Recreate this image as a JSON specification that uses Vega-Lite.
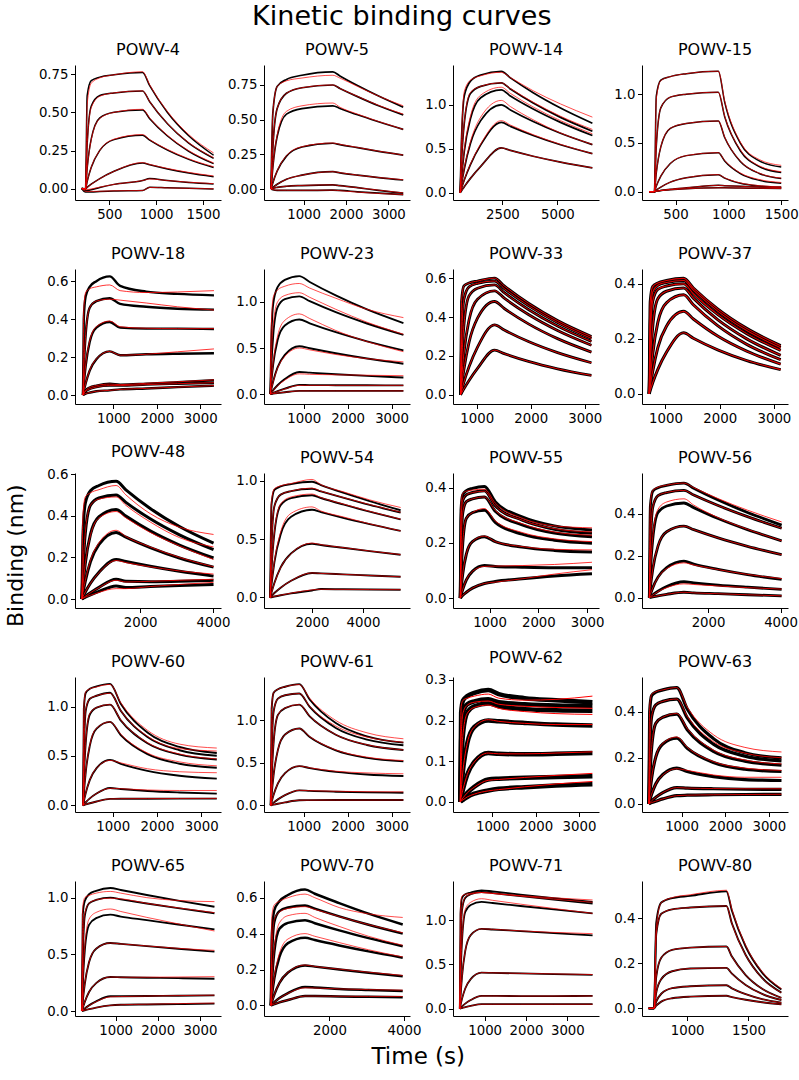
{
"$schema":"https://vega.github.io/schema/vega-lite/v6.json",
"background":"white",
"padding":{"left":5,"top":3,"right":0,"bottom":3},
"config":{
"font":"DejaVu Sans",
"view":{"stroke":null},
"axis":{"grid":false,"domainColor":"#000","tickColor":"#000","labelColor":"#000","labelFontSize":13.3,"labelFont":"DejaVu Sans","tickSize":4.5,"labelPadding":2.5,"labelFlush":false,"labelOverlap":false,"domainWidth":1,"tickWidth":1},
"title":{"font":"DejaVu Sans","fontSize":16,"fontWeight":"normal","color":"#000","offset":7,"anchor":"middle"}
},
"title":{"text":"Kinetic binding curves","fontSize":27,"offset":11,"anchor":"middle"},
"datasets":{
"p1":[
{"c":1,"t":205,"y":0.003,"f":0.003},{"c":1,"t":245,"y":0,"f":0},{"c":1,"t":263,"y":0.61,"f":0.55},{"c":1,"t":306,"y":0.707,"f":0.69},{"c":1,"t":398,"y":0.73,"f":0.725},{"c":1,"t":550,"y":0.745,"f":0.745},{"c":1,"t":855,"y":0.76,"f":0.765},{"c":1,"t":931,"y":0.674,"f":0.68},{"c":1,"t":1121,"y":0.499,"f":0.505},{"c":1,"t":1348,"y":0.347,"f":0.355},{"c":1,"t":1614,"y":0.22,"f":0.235},
{"c":2,"t":205,"y":0.003,"f":0.003},{"c":2,"t":245,"y":0,"f":0},{"c":2,"t":263,"y":0.29,"f":0.28},{"c":2,"t":306,"y":0.54,"f":0.53},{"c":2,"t":398,"y":0.61,"f":0.605},{"c":2,"t":550,"y":0.627,"f":0.627},{"c":2,"t":855,"y":0.64,"f":0.64},{"c":2,"t":931,"y":0.569,"f":0.57},{"c":2,"t":1121,"y":0.425,"f":0.428},{"c":2,"t":1348,"y":0.299,"f":0.302},{"c":2,"t":1614,"y":0.2,"f":0.205},
{"c":3,"t":205,"y":0.003,"f":0.003},{"c":3,"t":245,"y":0,"f":0},{"c":3,"t":263,"y":0.134,"f":0.13},{"c":3,"t":306,"y":0.325,"f":0.32},{"c":3,"t":398,"y":0.464,"f":0.46},{"c":3,"t":550,"y":0.5,"f":0.5},{"c":3,"t":855,"y":0.515,"f":0.52},{"c":3,"t":931,"y":0.459,"f":0.463},{"c":3,"t":1121,"y":0.346,"f":0.35},{"c":3,"t":1348,"y":0.246,"f":0.25},{"c":3,"t":1614,"y":0.165,"f":0.17},
{"c":4,"t":205,"y":0.003,"f":0.003},{"c":4,"t":245,"y":0,"f":0},{"c":4,"t":263,"y":0.049,"f":0.049},{"c":4,"t":306,"y":0.14,"f":0.14},{"c":4,"t":398,"y":0.252,"f":0.252},{"c":4,"t":550,"y":0.322,"f":0.325},{"c":4,"t":855,"y":0.35,"f":0.355},{"c":4,"t":931,"y":0.319,"f":0.322},{"c":4,"t":1121,"y":0.254,"f":0.258},{"c":4,"t":1348,"y":0.193,"f":0.197},{"c":4,"t":1614,"y":0.14,"f":0.145},
{"c":5,"t":205,"y":0.003,"f":0.003},{"c":5,"t":245,"y":0,"f":0},{"c":5,"t":263,"y":0.01,"f":0.01},{"c":5,"t":306,"y":0.031,"f":0.03},{"c":5,"t":398,"y":0.068,"f":0.067},{"c":5,"t":550,"y":0.116,"f":0.115},{"c":5,"t":855,"y":0.17,"f":0.172},{"c":5,"t":931,"y":0.158,"f":0.16},{"c":5,"t":1121,"y":0.131,"f":0.134},{"c":5,"t":1348,"y":0.104,"f":0.108},{"c":5,"t":1614,"y":0.08,"f":0.085},
{"c":6,"t":205,"y":0.003,"f":0.003},{"c":6,"t":245,"y":-0.01,"f":-0.005},{"c":6,"t":263,"y":-0.01,"f":-0.004},{"c":6,"t":306,"y":-0.005,"f":0},{"c":6,"t":398,"y":0.01,"f":0.012},{"c":6,"t":550,"y":0.03,"f":0.03},{"c":6,"t":855,"y":0.055,"f":0.055},{"c":6,"t":931,"y":0.068,"f":0.065},{"c":6,"t":1121,"y":0.055,"f":0.055},{"c":6,"t":1348,"y":0.043,"f":0.044},{"c":6,"t":1614,"y":0.033,"f":0.035},
{"c":7,"t":205,"y":0.003,"f":0.003},{"c":7,"t":245,"y":-0.02,"f":-0.015},{"c":7,"t":263,"y":-0.02,"f":-0.016},{"c":7,"t":306,"y":-0.02,"f":-0.016},{"c":7,"t":398,"y":-0.017,"f":-0.015},{"c":7,"t":550,"y":-0.013,"f":-0.012},{"c":7,"t":855,"y":-0.01,"f":-0.01},{"c":7,"t":931,"y":0.012,"f":0.01},{"c":7,"t":1121,"y":0.008,"f":0.007},{"c":7,"t":1348,"y":0.004,"f":0.004},{"c":7,"t":1614,"y":0,"f":0.001}
],
"p2":[
{"c":1,"t":230,"y":0,"f":0},{"c":1,"t":274,"y":0.55,"f":0.55},{"c":1,"t":376,"y":0.74,"f":0.74},{"c":1,"t":595,"y":0.79,"f":0.78},{"c":1,"t":960,"y":0.82,"f":0.8},{"c":1,"t":1690,"y":0.845,"f":0.82},{"c":1,"t":1856,"y":0.815,"f":0.8},{"c":1,"t":2271,"y":0.746,"f":0.74},{"c":1,"t":2769,"y":0.67,"f":0.67},{"c":1,"t":3350,"y":0.59,"f":0.6},
{"c":2,"t":230,"y":0,"f":0},{"c":2,"t":274,"y":0.3,"f":0.3},{"c":2,"t":376,"y":0.58,"f":0.58},{"c":2,"t":595,"y":0.69,"f":0.69},{"c":2,"t":960,"y":0.73,"f":0.73},{"c":2,"t":1690,"y":0.75,"f":0.75},{"c":2,"t":1856,"y":0.725,"f":0.725},{"c":2,"t":2271,"y":0.666,"f":0.668},{"c":2,"t":2769,"y":0.6,"f":0.603},{"c":2,"t":3350,"y":0.534,"f":0.54},
{"c":3,"t":230,"y":0,"f":0},{"c":3,"t":274,"y":0.16,"f":0.16},{"c":3,"t":376,"y":0.38,"f":0.39},{"c":3,"t":595,"y":0.54,"f":0.56},{"c":3,"t":960,"y":0.58,"f":0.6},{"c":3,"t":1690,"y":0.6,"f":0.62},{"c":3,"t":1856,"y":0.581,"f":0.59},{"c":3,"t":2271,"y":0.535,"f":0.54},{"c":3,"t":2769,"y":0.485,"f":0.487},{"c":3,"t":3350,"y":0.43,"f":0.43},
{"c":4,"t":230,"y":0,"f":0},{"c":4,"t":274,"y":0.046,"f":0.046},{"c":4,"t":376,"y":0.13,"f":0.13},{"c":4,"t":595,"y":0.237,"f":0.24},{"c":4,"t":960,"y":0.303,"f":0.305},{"c":4,"t":1690,"y":0.33,"f":0.332},{"c":4,"t":1856,"y":0.32,"f":0.322},{"c":4,"t":2271,"y":0.298,"f":0.3},{"c":4,"t":2769,"y":0.272,"f":0.273},{"c":4,"t":3350,"y":0.245,"f":0.245},
{"c":5,"t":230,"y":0,"f":0},{"c":5,"t":274,"y":0.011,"f":0.011},{"c":5,"t":376,"y":0.034,"f":0.034},{"c":5,"t":595,"y":0.07,"f":0.07},{"c":5,"t":960,"y":0.1,"f":0.1},{"c":5,"t":1690,"y":0.125,"f":0.125},{"c":5,"t":1856,"y":0.117,"f":0.118},{"c":5,"t":2271,"y":0.1,"f":0.1},{"c":5,"t":2769,"y":0.082,"f":0.083},{"c":5,"t":3350,"y":0.065,"f":0.067},
{"c":6,"t":230,"y":0,"f":0},{"c":6,"t":274,"y":0.005,"f":0.005},{"c":6,"t":376,"y":0.012,"f":0.012},{"c":6,"t":595,"y":0.02,"f":0.02},{"c":6,"t":960,"y":0.025,"f":0.026},{"c":6,"t":1690,"y":0.03,"f":0.03},{"c":6,"t":1856,"y":0.025,"f":0.024},{"c":6,"t":2271,"y":0.01,"f":0.01},{"c":6,"t":2769,"y":-0.01,"f":-0.008},{"c":6,"t":3350,"y":-0.03,"f":-0.028},
{"c":7,"t":230,"y":0,"f":0},{"c":7,"t":274,"y":-0.005,"f":-0.004},{"c":7,"t":376,"y":-0.01,"f":-0.008},{"c":7,"t":595,"y":-0.01,"f":-0.009},{"c":7,"t":960,"y":-0.01,"f":-0.009},{"c":7,"t":1690,"y":-0.008,"f":-0.008},{"c":7,"t":1856,"y":-0.01,"f":-0.012},{"c":7,"t":2271,"y":-0.02,"f":-0.022},{"c":7,"t":2769,"y":-0.03,"f":-0.032},{"c":7,"t":3350,"y":-0.04,"f":-0.04}
],
"p3":[
{"c":1,"t":580,"y":0,"f":0},{"c":1,"t":636,"y":0.55,"f":0.55},{"c":1,"t":767,"y":1.1,"f":1.15},{"c":1,"t":1048,"y":1.27,"f":1.28},{"c":1,"t":1515,"y":1.34,"f":1.33},{"c":1,"t":2450,"y":1.38,"f":1.37},{"c":1,"t":2864,"y":1.306,"f":1.31},{"c":1,"t":3899,"y":1.137,"f":1.16},{"c":1,"t":5141,"y":0.963,"f":1.01},{"c":1,"t":6590,"y":0.79,"f":0.86},
{"c":2,"t":580,"y":0,"f":0},{"c":2,"t":636,"y":0.33,"f":0.34},{"c":2,"t":767,"y":0.79,"f":0.8},{"c":2,"t":1048,"y":1.13,"f":1.14},{"c":2,"t":1515,"y":1.21,"f":1.21},{"c":2,"t":2450,"y":1.25,"f":1.25},{"c":2,"t":2864,"y":1.18,"f":1.185},{"c":2,"t":3899,"y":1.02,"f":1.03},{"c":2,"t":5141,"y":0.857,"f":0.87},{"c":2,"t":6590,"y":0.7,"f":0.72},
{"c":3,"t":580,"y":0,"f":0},{"c":3,"t":636,"y":0.16,"f":0.17},{"c":3,"t":767,"y":0.47,"f":0.49},{"c":3,"t":1048,"y":0.84,"f":0.87},{"c":3,"t":1515,"y":1.08,"f":1.11},{"c":3,"t":2450,"y":1.17,"f":1.2},{"c":3,"t":2864,"y":1.1,"f":1.13},{"c":3,"t":3899,"y":0.952,"f":0.975},{"c":3,"t":5141,"y":0.8,"f":0.82},{"c":3,"t":6590,"y":0.65,"f":0.67},
{"c":4,"t":580,"y":0,"f":0},{"c":4,"t":636,"y":0.09,"f":0.09},{"c":4,"t":767,"y":0.27,"f":0.28},{"c":4,"t":1048,"y":0.56,"f":0.58},{"c":4,"t":1515,"y":0.82,"f":0.86},{"c":4,"t":2450,"y":1.0,"f":1.05},{"c":4,"t":2864,"y":0.942,"f":0.98},{"c":4,"t":3899,"y":0.81,"f":0.83},{"c":4,"t":5141,"y":0.676,"f":0.68},{"c":4,"t":6590,"y":0.547,"f":0.55},
{"c":5,"t":580,"y":0,"f":0},{"c":5,"t":636,"y":0.046,"f":0.046},{"c":5,"t":767,"y":0.144,"f":0.146},{"c":5,"t":1048,"y":0.32,"f":0.325},{"c":5,"t":1515,"y":0.544,"f":0.555},{"c":5,"t":2450,"y":0.8,"f":0.82},{"c":5,"t":2864,"y":0.755,"f":0.77},{"c":5,"t":3899,"y":0.651,"f":0.66},{"c":5,"t":5141,"y":0.546,"f":0.55},{"c":5,"t":6590,"y":0.445,"f":0.445},
{"c":6,"t":580,"y":0,"f":0},{"c":6,"t":636,"y":0.02,"f":0.02},{"c":6,"t":767,"y":0.069,"f":0.069},{"c":6,"t":1048,"y":0.163,"f":0.163},{"c":6,"t":1515,"y":0.3,"f":0.3},{"c":6,"t":2450,"y":0.51,"f":0.51},{"c":6,"t":2864,"y":0.481,"f":0.481},{"c":6,"t":3899,"y":0.415,"f":0.415},{"c":6,"t":5141,"y":0.348,"f":0.348},{"c":6,"t":6590,"y":0.283,"f":0.283}
],
"p4":[
{"c":1,"t":250,"y":0,"f":0},{"c":1,"t":300,"y":0,"f":0},{"c":1,"t":318,"y":0.98,"f":0.95},{"c":1,"t":361,"y":1.145,"f":1.14},{"c":1,"t":451,"y":1.18,"f":1.18},{"c":1,"t":602,"y":1.21,"f":1.21},{"c":1,"t":905,"y":1.235,"f":1.235},{"c":1,"t":965,"y":0.919,"f":0.93},{"c":1,"t":1113,"y":0.498,"f":0.51},{"c":1,"t":1292,"y":0.316,"f":0.33},{"c":1,"t":1500,"y":0.253,"f":0.27},
{"c":2,"t":250,"y":0,"f":0},{"c":2,"t":300,"y":0,"f":0},{"c":2,"t":318,"y":0.46,"f":0.46},{"c":2,"t":361,"y":0.86,"f":0.86},{"c":2,"t":451,"y":0.97,"f":0.97},{"c":2,"t":602,"y":1.0,"f":1.0},{"c":2,"t":905,"y":1.02,"f":1.02},{"c":2,"t":965,"y":0.769,"f":0.775},{"c":2,"t":1113,"y":0.42,"f":0.43},{"c":2,"t":1292,"y":0.258,"f":0.265},{"c":2,"t":1500,"y":0.196,"f":0.205},
{"c":3,"t":250,"y":0,"f":0},{"c":3,"t":300,"y":0,"f":0},{"c":3,"t":318,"y":0.19,"f":0.19},{"c":3,"t":361,"y":0.46,"f":0.46},{"c":3,"t":451,"y":0.65,"f":0.65},{"c":3,"t":602,"y":0.7,"f":0.7},{"c":3,"t":905,"y":0.725,"f":0.725},{"c":3,"t":965,"y":0.556,"f":0.56},{"c":3,"t":1113,"y":0.31,"f":0.315},{"c":3,"t":1292,"y":0.187,"f":0.19},{"c":3,"t":1500,"y":0.135,"f":0.14},
{"c":4,"t":250,"y":0,"f":0},{"c":4,"t":300,"y":0,"f":0},{"c":4,"t":318,"y":0.056,"f":0.056},{"c":4,"t":361,"y":0.16,"f":0.16},{"c":4,"t":451,"y":0.29,"f":0.29},{"c":4,"t":602,"y":0.37,"f":0.37},{"c":4,"t":905,"y":0.4,"f":0.4},{"c":4,"t":965,"y":0.315,"f":0.32},{"c":4,"t":1113,"y":0.186,"f":0.192},{"c":4,"t":1292,"y":0.117,"f":0.125},{"c":4,"t":1500,"y":0.087,"f":0.095},
{"c":5,"t":250,"y":0,"f":0},{"c":5,"t":300,"y":0,"f":0},{"c":5,"t":318,"y":0.016,"f":0.016},{"c":5,"t":361,"y":0.047,"f":0.047},{"c":5,"t":451,"y":0.098,"f":0.098},{"c":5,"t":602,"y":0.143,"f":0.143},{"c":5,"t":905,"y":0.175,"f":0.175},{"c":5,"t":965,"y":0.14,"f":0.142},{"c":5,"t":1113,"y":0.087,"f":0.09},{"c":5,"t":1292,"y":0.059,"f":0.062},{"c":5,"t":1500,"y":0.047,"f":0.05},
{"c":6,"t":250,"y":0,"f":0},{"c":6,"t":300,"y":0,"f":0},{"c":6,"t":318,"y":0.005,"f":0.005},{"c":6,"t":361,"y":0.012,"f":0.012},{"c":6,"t":451,"y":0.025,"f":0.025},{"c":6,"t":602,"y":0.04,"f":0.04},{"c":6,"t":905,"y":0.065,"f":0.065},{"c":6,"t":965,"y":0.062,"f":0.062},{"c":6,"t":1113,"y":0.055,"f":0.055},{"c":6,"t":1292,"y":0.048,"f":0.048},{"c":6,"t":1500,"y":0.04,"f":0.04},
{"c":7,"t":250,"y":0,"f":0},{"c":7,"t":300,"y":0,"f":0},{"c":7,"t":318,"y":0.005,"f":0.005},{"c":7,"t":361,"y":0.012,"f":0.012},{"c":7,"t":451,"y":0.02,"f":0.02},{"c":7,"t":602,"y":0.03,"f":0.03},{"c":7,"t":905,"y":0.04,"f":0.04},{"c":7,"t":965,"y":0.04,"f":0.04},{"c":7,"t":1113,"y":0.038,"f":0.038},{"c":7,"t":1292,"y":0.035,"f":0.035},{"c":7,"t":1500,"y":0.033,"f":0.033}
],
"p5":[
{"c":1,"t":300,"y":0,"f":0},{"c":1,"t":318,"y":0.4,"f":0.45},{"c":1,"t":362,"y":0.52,"f":0.54},{"c":1,"t":454,"y":0.57,"f":0.56},{"c":1,"t":608,"y":0.6,"f":0.57},{"c":1,"t":915,"y":0.625,"f":0.58},{"c":1,"t":1155,"y":0.575,"f":0.55},{"c":1,"t":1755,"y":0.545,"f":0.54},{"c":1,"t":2475,"y":0.533,"f":0.543},{"c":1,"t":3315,"y":0.525,"f":0.55},
{"c":2,"t":300,"y":0,"f":0},{"c":2,"t":318,"y":0.13,"f":0.13},{"c":2,"t":362,"y":0.32,"f":0.32},{"c":2,"t":454,"y":0.46,"f":0.46},{"c":2,"t":608,"y":0.495,"f":0.495},{"c":2,"t":915,"y":0.51,"f":0.505},{"c":2,"t":1155,"y":0.48,"f":0.5},{"c":2,"t":1755,"y":0.465,"f":0.485},{"c":2,"t":2475,"y":0.455,"f":0.465},{"c":2,"t":3315,"y":0.45,"f":0.448},
{"c":3,"t":300,"y":0,"f":0},{"c":3,"t":318,"y":0.054,"f":0.055},{"c":3,"t":362,"y":0.155,"f":0.158},{"c":3,"t":454,"y":0.28,"f":0.285},{"c":3,"t":608,"y":0.355,"f":0.36},{"c":3,"t":915,"y":0.385,"f":0.39},{"c":3,"t":1155,"y":0.355,"f":0.36},{"c":3,"t":1755,"y":0.35,"f":0.352},{"c":3,"t":2475,"y":0.35,"f":0.35},{"c":3,"t":3315,"y":0.348,"f":0.35},
{"c":4,"t":300,"y":0,"f":0},{"c":4,"t":318,"y":0.021,"f":0.021},{"c":4,"t":362,"y":0.062,"f":0.062},{"c":4,"t":454,"y":0.129,"f":0.13},{"c":4,"t":608,"y":0.189,"f":0.19},{"c":4,"t":915,"y":0.23,"f":0.23},{"c":4,"t":1155,"y":0.21,"f":0.21},{"c":4,"t":1755,"y":0.215,"f":0.215},{"c":4,"t":2475,"y":0.218,"f":0.228},{"c":4,"t":3315,"y":0.22,"f":0.243},
{"c":5,"t":300,"y":0,"f":0},{"c":5,"t":318,"y":0.01,"f":0.01},{"c":5,"t":362,"y":0.025,"f":0.025},{"c":5,"t":454,"y":0.04,"f":0.04},{"c":5,"t":608,"y":0.05,"f":0.05},{"c":5,"t":915,"y":0.06,"f":0.058},{"c":5,"t":1155,"y":0.055,"f":0.055},{"c":5,"t":1755,"y":0.06,"f":0.062},{"c":5,"t":2475,"y":0.068,"f":0.07},{"c":5,"t":3315,"y":0.078,"f":0.08},
{"c":6,"t":300,"y":0,"f":0},{"c":6,"t":318,"y":0.008,"f":0.008},{"c":6,"t":362,"y":0.02,"f":0.02},{"c":6,"t":454,"y":0.032,"f":0.032},{"c":6,"t":608,"y":0.042,"f":0.042},{"c":6,"t":915,"y":0.05,"f":0.05},{"c":6,"t":1155,"y":0.05,"f":0.05},{"c":6,"t":1755,"y":0.055,"f":0.055},{"c":6,"t":2475,"y":0.06,"f":0.06},{"c":6,"t":3315,"y":0.065,"f":0.065},
{"c":7,"t":300,"y":0,"f":0},{"c":7,"t":318,"y":0.003,"f":0.003},{"c":7,"t":362,"y":0.008,"f":0.008},{"c":7,"t":454,"y":0.013,"f":0.013},{"c":7,"t":608,"y":0.02,"f":0.02},{"c":7,"t":915,"y":0.025,"f":0.025},{"c":7,"t":1155,"y":0.03,"f":0.03},{"c":7,"t":1755,"y":0.035,"f":0.035},{"c":7,"t":2475,"y":0.042,"f":0.042},{"c":7,"t":3315,"y":0.05,"f":0.05}
],
"p6":[
{"c":1,"t":240,"y":0,"f":0},{"c":1,"t":260,"y":0.55,"f":0.7},{"c":1,"t":306,"y":0.98,"f":1.05},{"c":1,"t":405,"y":1.16,"f":1.13},{"c":1,"t":570,"y":1.24,"f":1.17},{"c":1,"t":900,"y":1.28,"f":1.2},{"c":1,"t":1137,"y":1.216,"f":1.15},{"c":1,"t":1730,"y":1.07,"f":1.04},{"c":1,"t":2441,"y":0.918,"f":0.92},{"c":1,"t":3270,"y":0.77,"f":0.83},
{"c":2,"t":240,"y":0,"f":0},{"c":2,"t":260,"y":0.27,"f":0.35},{"c":2,"t":306,"y":0.64,"f":0.75},{"c":2,"t":405,"y":0.94,"f":1.0},{"c":2,"t":570,"y":1.03,"f":1.07},{"c":2,"t":900,"y":1.06,"f":1.1},{"c":2,"t":1137,"y":1.008,"f":1.05},{"c":2,"t":1730,"y":0.889,"f":0.92},{"c":2,"t":2441,"y":0.766,"f":0.78},{"c":2,"t":3270,"y":0.643,"f":0.65},
{"c":3,"t":240,"y":0,"f":0},{"c":3,"t":260,"y":0.113,"f":0.12},{"c":3,"t":306,"y":0.324,"f":0.35},{"c":3,"t":405,"y":0.583,"f":0.63},{"c":3,"t":570,"y":0.745,"f":0.8},{"c":3,"t":900,"y":0.81,"f":0.87},{"c":3,"t":1137,"y":0.768,"f":0.82},{"c":3,"t":1730,"y":0.672,"f":0.69},{"c":3,"t":2441,"y":0.573,"f":0.57},{"c":3,"t":3270,"y":0.475,"f":0.46},
{"c":4,"t":240,"y":0,"f":0},{"c":4,"t":260,"y":0.047,"f":0.045},{"c":4,"t":306,"y":0.14,"f":0.135},{"c":4,"t":405,"y":0.29,"f":0.28},{"c":4,"t":570,"y":0.426,"f":0.41},{"c":4,"t":900,"y":0.52,"f":0.5},{"c":4,"t":1137,"y":0.497,"f":0.48},{"c":4,"t":1730,"y":0.443,"f":0.43},{"c":4,"t":2441,"y":0.386,"f":0.385},{"c":4,"t":3270,"y":0.33,"f":0.35},
{"c":5,"t":240,"y":0,"f":0},{"c":5,"t":260,"y":0.014,"f":0.013},{"c":5,"t":306,"y":0.043,"f":0.04},{"c":5,"t":405,"y":0.096,"f":0.09},{"c":5,"t":570,"y":0.163,"f":0.152},{"c":5,"t":900,"y":0.24,"f":0.22},{"c":5,"t":1137,"y":0.233,"f":0.215},{"c":5,"t":1730,"y":0.216,"f":0.21},{"c":5,"t":2441,"y":0.198,"f":0.205},{"c":5,"t":3270,"y":0.18,"f":0.2},
{"c":6,"t":240,"y":0,"f":0},{"c":6,"t":260,"y":0.004,"f":0.004},{"c":6,"t":306,"y":0.0135,"f":0.013},{"c":6,"t":405,"y":0.032,"f":0.03},{"c":6,"t":570,"y":0.059,"f":0.056},{"c":6,"t":900,"y":0.1,"f":0.095},{"c":6,"t":1137,"y":0.098,"f":0.095},{"c":6,"t":1730,"y":0.097,"f":0.095},{"c":6,"t":2441,"y":0.096,"f":0.095},{"c":6,"t":3270,"y":0.095,"f":0.095},
{"c":7,"t":240,"y":0,"f":0},{"c":7,"t":260,"y":0.002,"f":0.002},{"c":7,"t":306,"y":0.005,"f":0.005},{"c":7,"t":405,"y":0.011,"f":0.011},{"c":7,"t":570,"y":0.02,"f":0.02},{"c":7,"t":900,"y":0.035,"f":0.035},{"c":7,"t":1137,"y":0.035,"f":0.035},{"c":7,"t":1730,"y":0.035,"f":0.035},{"c":7,"t":2441,"y":0.035,"f":0.035},{"c":7,"t":3270,"y":0.035,"f":0.035}
],
"p7":[
{"c":1,"t":700,"y":0,"f":0},{"c":1,"t":719,"y":0.48,"f":0.48},{"c":1,"t":763,"y":0.56,"f":0.56},{"c":1,"t":858,"y":0.575,"f":0.575},{"c":1,"t":1015,"y":0.585,"f":0.585},{"c":1,"t":1330,"y":0.6,"f":0.6},{"c":1,"t":1510,"y":0.56,"f":0.56},{"c":1,"t":1958,"y":0.471,"f":0.471},{"c":1,"t":2497,"y":0.382,"f":0.382},{"c":1,"t":3125,"y":0.3,"f":0.3},
{"c":2,"t":700,"y":0,"f":0},{"c":2,"t":719,"y":0.26,"f":0.26},{"c":2,"t":763,"y":0.49,"f":0.49},{"c":2,"t":858,"y":0.555,"f":0.555},{"c":2,"t":1015,"y":0.573,"f":0.573},{"c":2,"t":1330,"y":0.585,"f":0.585},{"c":2,"t":1510,"y":0.546,"f":0.546},{"c":2,"t":1958,"y":0.459,"f":0.459},{"c":2,"t":2497,"y":0.372,"f":0.372},{"c":2,"t":3125,"y":0.29,"f":0.29},
{"c":3,"t":700,"y":0,"f":0},{"c":3,"t":719,"y":0.147,"f":0.147},{"c":3,"t":763,"y":0.356,"f":0.356},{"c":3,"t":858,"y":0.509,"f":0.509},{"c":3,"t":1015,"y":0.548,"f":0.548},{"c":3,"t":1330,"y":0.565,"f":0.565},{"c":3,"t":1510,"y":0.525,"f":0.525},{"c":3,"t":1958,"y":0.439,"f":0.439},{"c":3,"t":2497,"y":0.354,"f":0.354},{"c":3,"t":3125,"y":0.275,"f":0.275},
{"c":4,"t":700,"y":0,"f":0},{"c":4,"t":719,"y":0.075,"f":0.075},{"c":4,"t":763,"y":0.214,"f":0.214},{"c":4,"t":858,"y":0.385,"f":0.385},{"c":4,"t":1015,"y":0.492,"f":0.492},{"c":4,"t":1330,"y":0.535,"f":0.535},{"c":4,"t":1510,"y":0.497,"f":0.497},{"c":4,"t":1958,"y":0.413,"f":0.413},{"c":4,"t":2497,"y":0.331,"f":0.331},{"c":4,"t":3125,"y":0.255,"f":0.255},
{"c":5,"t":700,"y":0,"f":0},{"c":5,"t":719,"y":0.043,"f":0.043},{"c":5,"t":763,"y":0.13,"f":0.13},{"c":5,"t":858,"y":0.27,"f":0.27},{"c":5,"t":1015,"y":0.394,"f":0.394},{"c":5,"t":1330,"y":0.48,"f":0.48},{"c":5,"t":1510,"y":0.444,"f":0.444},{"c":5,"t":1958,"y":0.365,"f":0.365},{"c":5,"t":2497,"y":0.289,"f":0.289},{"c":5,"t":3125,"y":0.22,"f":0.22},
{"c":6,"t":700,"y":0,"f":0},{"c":6,"t":719,"y":0.02,"f":0.02},{"c":6,"t":763,"y":0.065,"f":0.065},{"c":6,"t":858,"y":0.144,"f":0.144},{"c":6,"t":1015,"y":0.245,"f":0.245},{"c":6,"t":1330,"y":0.36,"f":0.36},{"c":6,"t":1510,"y":0.333,"f":0.333},{"c":6,"t":1958,"y":0.274,"f":0.274},{"c":6,"t":2497,"y":0.217,"f":0.217},{"c":6,"t":3125,"y":0.165,"f":0.165},
{"c":7,"t":700,"y":0,"f":0},{"c":7,"t":719,"y":0.009,"f":0.009},{"c":7,"t":763,"y":0.031,"f":0.031},{"c":7,"t":858,"y":0.074,"f":0.074},{"c":7,"t":1015,"y":0.136,"f":0.136},{"c":7,"t":1330,"y":0.23,"f":0.23},{"c":7,"t":1510,"y":0.212,"f":0.212},{"c":7,"t":1958,"y":0.172,"f":0.172},{"c":7,"t":2497,"y":0.134,"f":0.134},{"c":7,"t":3125,"y":0.1,"f":0.1}
],
"p8":[
{"c":1,"t":700,"y":0,"f":0},{"c":1,"t":719,"y":0.336,"f":0.336},{"c":1,"t":764,"y":0.39,"f":0.39},{"c":1,"t":859,"y":0.403,"f":0.403},{"c":1,"t":1018,"y":0.412,"f":0.412},{"c":1,"t":1335,"y":0.42,"f":0.42},{"c":1,"t":1514,"y":0.385,"f":0.385},{"c":1,"t":1962,"y":0.309,"f":0.309},{"c":1,"t":2499,"y":0.238,"f":0.238},{"c":1,"t":3125,"y":0.175,"f":0.175},
{"c":2,"t":700,"y":0,"f":0},{"c":2,"t":719,"y":0.25,"f":0.25},{"c":2,"t":764,"y":0.37,"f":0.37},{"c":2,"t":859,"y":0.395,"f":0.395},{"c":2,"t":1018,"y":0.405,"f":0.405},{"c":2,"t":1335,"y":0.412,"f":0.412},{"c":2,"t":1514,"y":0.377,"f":0.377},{"c":2,"t":1962,"y":0.301,"f":0.301},{"c":2,"t":2499,"y":0.23,"f":0.23},{"c":2,"t":3125,"y":0.168,"f":0.168},
{"c":3,"t":700,"y":0,"f":0},{"c":3,"t":719,"y":0.18,"f":0.18},{"c":3,"t":764,"y":0.336,"f":0.336},{"c":3,"t":859,"y":0.38,"f":0.38},{"c":3,"t":1018,"y":0.392,"f":0.392},{"c":3,"t":1335,"y":0.4,"f":0.4},{"c":3,"t":1514,"y":0.364,"f":0.364},{"c":3,"t":1962,"y":0.289,"f":0.289},{"c":3,"t":2499,"y":0.219,"f":0.219},{"c":3,"t":3125,"y":0.158,"f":0.158},
{"c":4,"t":700,"y":0,"f":0},{"c":4,"t":719,"y":0.1,"f":0.1},{"c":4,"t":764,"y":0.243,"f":0.243},{"c":4,"t":859,"y":0.346,"f":0.346},{"c":4,"t":1018,"y":0.373,"f":0.373},{"c":4,"t":1335,"y":0.385,"f":0.385},{"c":4,"t":1514,"y":0.348,"f":0.348},{"c":4,"t":1962,"y":0.27,"f":0.27},{"c":4,"t":2499,"y":0.2,"f":0.2},{"c":4,"t":3125,"y":0.14,"f":0.14},
{"c":5,"t":700,"y":0,"f":0},{"c":5,"t":719,"y":0.05,"f":0.05},{"c":5,"t":764,"y":0.144,"f":0.144},{"c":5,"t":859,"y":0.26,"f":0.26},{"c":5,"t":1018,"y":0.331,"f":0.331},{"c":5,"t":1335,"y":0.36,"f":0.36},{"c":5,"t":1514,"y":0.324,"f":0.324},{"c":5,"t":1962,"y":0.248,"f":0.248},{"c":5,"t":2499,"y":0.18,"f":0.18},{"c":5,"t":3125,"y":0.124,"f":0.124},
{"c":6,"t":700,"y":0,"f":0},{"c":6,"t":719,"y":0.027,"f":0.027},{"c":6,"t":764,"y":0.081,"f":0.081},{"c":6,"t":859,"y":0.168,"f":0.168},{"c":6,"t":1018,"y":0.246,"f":0.246},{"c":6,"t":1335,"y":0.3,"f":0.3},{"c":6,"t":1514,"y":0.272,"f":0.272},{"c":6,"t":1962,"y":0.21,"f":0.21},{"c":6,"t":2499,"y":0.155,"f":0.155},{"c":6,"t":3125,"y":0.108,"f":0.108},
{"c":7,"t":700,"y":0,"f":0},{"c":7,"t":719,"y":0.013,"f":0.013},{"c":7,"t":764,"y":0.04,"f":0.04},{"c":7,"t":859,"y":0.089,"f":0.089},{"c":7,"t":1018,"y":0.151,"f":0.151},{"c":7,"t":1335,"y":0.222,"f":0.222},{"c":7,"t":1514,"y":0.202,"f":0.202},{"c":7,"t":1962,"y":0.16,"f":0.16},{"c":7,"t":2499,"y":0.121,"f":0.121},{"c":7,"t":3125,"y":0.088,"f":0.088}
],
"p9":[
{"c":1,"t":400,"y":0,"f":0},{"c":1,"t":428,"y":0.3,"f":0.4},{"c":1,"t":494,"y":0.46,"f":0.49},{"c":1,"t":635,"y":0.52,"f":0.51},{"c":1,"t":870,"y":0.545,"f":0.525},{"c":1,"t":1340,"y":0.565,"f":0.545},{"c":1,"t":1608,"y":0.524,"f":0.5},{"c":1,"t":2276,"y":0.435,"f":0.41},{"c":1,"t":3079,"y":0.348,"f":0.345},{"c":1,"t":4015,"y":0.268,"f":0.31},
{"c":2,"t":400,"y":0,"f":0},{"c":2,"t":428,"y":0.13,"f":0.13},{"c":2,"t":494,"y":0.316,"f":0.32},{"c":2,"t":635,"y":0.45,"f":0.45},{"c":2,"t":870,"y":0.485,"f":0.48},{"c":2,"t":1340,"y":0.5,"f":0.49},{"c":2,"t":1608,"y":0.464,"f":0.45},{"c":2,"t":2276,"y":0.385,"f":0.37},{"c":2,"t":3079,"y":0.308,"f":0.295},{"c":2,"t":4015,"y":0.237,"f":0.25},
{"c":3,"t":400,"y":0,"f":0},{"c":3,"t":428,"y":0.06,"f":0.06},{"c":3,"t":494,"y":0.172,"f":0.17},{"c":3,"t":635,"y":0.31,"f":0.305},{"c":3,"t":870,"y":0.395,"f":0.39},{"c":3,"t":1340,"y":0.43,"f":0.42},{"c":3,"t":1608,"y":0.398,"f":0.39},{"c":3,"t":2276,"y":0.327,"f":0.32},{"c":3,"t":3079,"y":0.259,"f":0.255},{"c":3,"t":4015,"y":0.197,"f":0.19},
{"c":4,"t":400,"y":0,"f":0},{"c":4,"t":428,"y":0.029,"f":0.03},{"c":4,"t":494,"y":0.086,"f":0.089},{"c":4,"t":635,"y":0.179,"f":0.185},{"c":4,"t":870,"y":0.262,"f":0.27},{"c":4,"t":1340,"y":0.32,"f":0.33},{"c":4,"t":1608,"y":0.297,"f":0.3},{"c":4,"t":2276,"y":0.247,"f":0.25},{"c":4,"t":3079,"y":0.197,"f":0.2},{"c":4,"t":4015,"y":0.153,"f":0.155},
{"c":5,"t":400,"y":0,"f":0},{"c":5,"t":428,"y":0.011,"f":0.011},{"c":5,"t":494,"y":0.034,"f":0.034},{"c":5,"t":635,"y":0.076,"f":0.075},{"c":5,"t":870,"y":0.129,"f":0.127},{"c":5,"t":1340,"y":0.19,"f":0.185},{"c":5,"t":1608,"y":0.18,"f":0.175},{"c":5,"t":2276,"y":0.157,"f":0.155},{"c":5,"t":3079,"y":0.133,"f":0.135},{"c":5,"t":4015,"y":0.11,"f":0.12},
{"c":6,"t":400,"y":0,"f":0},{"c":6,"t":428,"y":0.004,"f":0.004},{"c":6,"t":494,"y":0.013,"f":0.013},{"c":6,"t":635,"y":0.03,"f":0.03},{"c":6,"t":870,"y":0.056,"f":0.055},{"c":6,"t":1340,"y":0.095,"f":0.09},{"c":6,"t":1608,"y":0.085,"f":0.082},{"c":6,"t":2276,"y":0.083,"f":0.085},{"c":6,"t":3079,"y":0.085,"f":0.09},{"c":6,"t":4015,"y":0.09,"f":0.095},
{"c":7,"t":400,"y":0,"f":0},{"c":7,"t":428,"y":0.003,"f":0.003},{"c":7,"t":494,"y":0.009,"f":0.009},{"c":7,"t":635,"y":0.02,"f":0.018},{"c":7,"t":870,"y":0.037,"f":0.032},{"c":7,"t":1340,"y":0.063,"f":0.05},{"c":7,"t":1608,"y":0.055,"f":0.05},{"c":7,"t":2276,"y":0.06,"f":0.06},{"c":7,"t":3079,"y":0.065,"f":0.07},{"c":7,"t":4015,"y":0.07,"f":0.08}
],
"p10":[
{"c":1,"t":360,"y":0,"f":0},{"c":1,"t":409,"y":0.79,"f":0.82},{"c":1,"t":524,"y":0.92,"f":0.93},{"c":1,"t":770,"y":0.95,"f":0.955},{"c":1,"t":1180,"y":0.97,"f":0.975},{"c":1,"t":2000,"y":0.99,"f":1.01},{"c":1,"t":2348,"y":0.962,"f":0.965},{"c":1,"t":3216,"y":0.897,"f":0.905},{"c":1,"t":4259,"y":0.825,"f":0.835},{"c":1,"t":5475,"y":0.746,"f":0.77},
{"c":2,"t":360,"y":0,"f":0},{"c":2,"t":409,"y":0.42,"f":0.42},{"c":2,"t":524,"y":0.78,"f":0.78},{"c":2,"t":770,"y":0.88,"f":0.88},{"c":2,"t":1180,"y":0.91,"f":0.91},{"c":2,"t":2000,"y":0.93,"f":0.935},{"c":2,"t":2348,"y":0.908,"f":0.91},{"c":2,"t":3216,"y":0.854,"f":0.856},{"c":2,"t":4259,"y":0.792,"f":0.795},{"c":2,"t":5475,"y":0.727,"f":0.73},
{"c":3,"t":360,"y":0,"f":0},{"c":3,"t":409,"y":0.23,"f":0.23},{"c":3,"t":524,"y":0.55,"f":0.56},{"c":3,"t":770,"y":0.79,"f":0.8},{"c":3,"t":1180,"y":0.85,"f":0.86},{"c":3,"t":2000,"y":0.875,"f":0.885},{"c":3,"t":2348,"y":0.851,"f":0.855},{"c":3,"t":3216,"y":0.796,"f":0.8},{"c":3,"t":4259,"y":0.734,"f":0.737},{"c":3,"t":5475,"y":0.668,"f":0.67},
{"c":4,"t":360,"y":0,"f":0},{"c":4,"t":409,"y":0.105,"f":0.11},{"c":4,"t":524,"y":0.3,"f":0.31},{"c":4,"t":770,"y":0.54,"f":0.56},{"c":4,"t":1180,"y":0.69,"f":0.72},{"c":4,"t":2000,"y":0.75,"f":0.775},{"c":4,"t":2348,"y":0.73,"f":0.74},{"c":4,"t":3216,"y":0.681,"f":0.69},{"c":4,"t":4259,"y":0.627,"f":0.63},{"c":4,"t":5475,"y":0.569,"f":0.57},
{"c":5,"t":360,"y":0,"f":0},{"c":5,"t":409,"y":0.041,"f":0.04},{"c":5,"t":524,"y":0.124,"f":0.12},{"c":5,"t":770,"y":0.258,"f":0.255},{"c":5,"t":1180,"y":0.377,"f":0.375},{"c":5,"t":2000,"y":0.46,"f":0.465},{"c":5,"t":2348,"y":0.449,"f":0.452},{"c":5,"t":3216,"y":0.425,"f":0.427},{"c":5,"t":4259,"y":0.397,"f":0.398},{"c":5,"t":5475,"y":0.366,"f":0.367},
{"c":6,"t":360,"y":0,"f":0},{"c":6,"t":409,"y":0.012,"f":0.012},{"c":6,"t":524,"y":0.038,"f":0.038},{"c":6,"t":770,"y":0.084,"f":0.084},{"c":6,"t":1180,"y":0.143,"f":0.143},{"c":6,"t":2000,"y":0.21,"f":0.21},{"c":6,"t":2348,"y":0.206,"f":0.206},{"c":6,"t":3216,"y":0.198,"f":0.198},{"c":6,"t":4259,"y":0.188,"f":0.188},{"c":6,"t":5475,"y":0.177,"f":0.177},
{"c":7,"t":360,"y":0,"f":0},{"c":7,"t":409,"y":0.0024,"f":0.003},{"c":7,"t":524,"y":0.008,"f":0.009},{"c":7,"t":770,"y":0.019,"f":0.02},{"c":7,"t":1180,"y":0.035,"f":0.037},{"c":7,"t":2000,"y":0.06,"f":0.065},{"c":7,"t":2348,"y":0.072,"f":0.07},{"c":7,"t":3216,"y":0.07,"f":0.069},{"c":7,"t":4259,"y":0.068,"f":0.068},{"c":7,"t":5475,"y":0.066,"f":0.067}
],
"p11":[
{"c":1,"t":400,"y":0,"f":0},{"c":1,"t":415,"y":0.32,"f":0.34},{"c":1,"t":450,"y":0.375,"f":0.38},{"c":1,"t":524,"y":0.39,"f":0.388},{"c":1,"t":648,"y":0.398,"f":0.392},{"c":1,"t":895,"y":0.405,"f":0.395},{"c":1,"t":1116,"y":0.35,"f":0.345},{"c":1,"t":1667,"y":0.295,"f":0.29},{"c":1,"t":2328,"y":0.262,"f":0.262},{"c":1,"t":3100,"y":0.247,"f":0.255},
{"c":2,"t":400,"y":0,"f":0},{"c":2,"t":415,"y":0.28,"f":0.28},{"c":2,"t":450,"y":0.355,"f":0.355},{"c":2,"t":524,"y":0.375,"f":0.375},{"c":2,"t":648,"y":0.383,"f":0.383},{"c":2,"t":895,"y":0.39,"f":0.388},{"c":2,"t":1116,"y":0.335,"f":0.335},{"c":2,"t":1667,"y":0.283,"f":0.283},{"c":2,"t":2328,"y":0.25,"f":0.252},{"c":2,"t":3100,"y":0.235,"f":0.24},
{"c":3,"t":400,"y":0,"f":0},{"c":3,"t":415,"y":0.165,"f":0.165},{"c":3,"t":450,"y":0.31,"f":0.31},{"c":3,"t":524,"y":0.35,"f":0.35},{"c":3,"t":648,"y":0.36,"f":0.36},{"c":3,"t":895,"y":0.367,"f":0.367},{"c":3,"t":1116,"y":0.315,"f":0.318},{"c":3,"t":1667,"y":0.266,"f":0.27},{"c":3,"t":2328,"y":0.236,"f":0.24},{"c":3,"t":3100,"y":0.223,"f":0.228},
{"c":4,"t":400,"y":0,"f":0},{"c":4,"t":415,"y":0.083,"f":0.083},{"c":4,"t":450,"y":0.2,"f":0.2},{"c":4,"t":524,"y":0.29,"f":0.29},{"c":4,"t":648,"y":0.31,"f":0.31},{"c":4,"t":895,"y":0.319,"f":0.325},{"c":4,"t":1116,"y":0.275,"f":0.28},{"c":4,"t":1667,"y":0.232,"f":0.238},{"c":4,"t":2328,"y":0.21,"f":0.215},{"c":4,"t":3100,"y":0.199,"f":0.205},
{"c":5,"t":400,"y":0,"f":0},{"c":5,"t":415,"y":0.031,"f":0.031},{"c":5,"t":450,"y":0.089,"f":0.089},{"c":5,"t":524,"y":0.16,"f":0.16},{"c":5,"t":648,"y":0.205,"f":0.205},{"c":5,"t":895,"y":0.223,"f":0.225},{"c":5,"t":1116,"y":0.205,"f":0.205},{"c":5,"t":1667,"y":0.185,"f":0.187},{"c":5,"t":2328,"y":0.173,"f":0.177},{"c":5,"t":3100,"y":0.167,"f":0.175},
{"c":6,"t":400,"y":0,"f":0},{"c":6,"t":415,"y":0.011,"f":0.011},{"c":6,"t":450,"y":0.032,"f":0.032},{"c":6,"t":524,"y":0.066,"f":0.066},{"c":6,"t":648,"y":0.097,"f":0.097},{"c":6,"t":895,"y":0.118,"f":0.115},{"c":6,"t":1116,"y":0.115,"f":0.116},{"c":6,"t":1667,"y":0.112,"f":0.118},{"c":6,"t":2328,"y":0.11,"f":0.122},{"c":6,"t":3100,"y":0.11,"f":0.13},
{"c":7,"t":400,"y":0,"f":0},{"c":7,"t":415,"y":0.003,"f":0.003},{"c":7,"t":450,"y":0.01,"f":0.01},{"c":7,"t":524,"y":0.021,"f":0.021},{"c":7,"t":648,"y":0.036,"f":0.036},{"c":7,"t":895,"y":0.053,"f":0.053},{"c":7,"t":1116,"y":0.06,"f":0.058},{"c":7,"t":1667,"y":0.07,"f":0.07},{"c":7,"t":2328,"y":0.08,"f":0.087},{"c":7,"t":3100,"y":0.088,"f":0.103}
],
"p12":[
{"c":1,"t":380,"y":0,"f":0},{"c":1,"t":409,"y":0.436,"f":0.45},{"c":1,"t":476,"y":0.507,"f":0.51},{"c":1,"t":619,"y":0.523,"f":0.525},{"c":1,"t":858,"y":0.534,"f":0.535},{"c":1,"t":1335,"y":0.545,"f":0.545},{"c":1,"t":1605,"y":0.52,"f":0.523},{"c":1,"t":2278,"y":0.464,"f":0.471},{"c":1,"t":3087,"y":0.405,"f":0.416},{"c":1,"t":4030,"y":0.345,"f":0.36},
{"c":2,"t":380,"y":0,"f":0},{"c":2,"t":409,"y":0.23,"f":0.23},{"c":2,"t":476,"y":0.43,"f":0.43},{"c":2,"t":619,"y":0.485,"f":0.485},{"c":2,"t":858,"y":0.5,"f":0.5},{"c":2,"t":1335,"y":0.51,"f":0.51},{"c":2,"t":1605,"y":0.488,"f":0.488},{"c":2,"t":2278,"y":0.438,"f":0.438},{"c":2,"t":3087,"y":0.385,"f":0.385},{"c":2,"t":4030,"y":0.33,"f":0.33},
{"c":3,"t":380,"y":0,"f":0},{"c":3,"t":409,"y":0.117,"f":0.12},{"c":3,"t":476,"y":0.28,"f":0.29},{"c":3,"t":619,"y":0.405,"f":0.42},{"c":3,"t":858,"y":0.436,"f":0.455},{"c":3,"t":1335,"y":0.45,"f":0.47},{"c":3,"t":1605,"y":0.428,"f":0.44},{"c":3,"t":2278,"y":0.376,"f":0.38},{"c":3,"t":3087,"y":0.323,"f":0.325},{"c":3,"t":4030,"y":0.27,"f":0.27},
{"c":4,"t":380,"y":0,"f":0},{"c":4,"t":409,"y":0.048,"f":0.048},{"c":4,"t":476,"y":0.136,"f":0.136},{"c":4,"t":619,"y":0.245,"f":0.245},{"c":4,"t":858,"y":0.313,"f":0.313},{"c":4,"t":1335,"y":0.34,"f":0.34},{"c":4,"t":1605,"y":0.323,"f":0.323},{"c":4,"t":2278,"y":0.284,"f":0.284},{"c":4,"t":3087,"y":0.244,"f":0.244},{"c":4,"t":4030,"y":0.204,"f":0.204},
{"c":5,"t":380,"y":0,"f":0},{"c":5,"t":409,"y":0.015,"f":0.015},{"c":5,"t":476,"y":0.047,"f":0.046},{"c":5,"t":619,"y":0.097,"f":0.095},{"c":5,"t":858,"y":0.142,"f":0.138},{"c":5,"t":1335,"y":0.173,"f":0.165},{"c":5,"t":1605,"y":0.159,"f":0.155},{"c":5,"t":2278,"y":0.134,"f":0.133},{"c":5,"t":3087,"y":0.109,"f":0.11},{"c":5,"t":4030,"y":0.086,"f":0.09},
{"c":6,"t":380,"y":0,"f":0},{"c":6,"t":409,"y":0.004,"f":0.004},{"c":6,"t":476,"y":0.013,"f":0.012},{"c":6,"t":619,"y":0.03,"f":0.028},{"c":6,"t":858,"y":0.052,"f":0.047},{"c":6,"t":1335,"y":0.075,"f":0.065},{"c":6,"t":1605,"y":0.07,"f":0.062},{"c":6,"t":2278,"y":0.059,"f":0.055},{"c":6,"t":3087,"y":0.049,"f":0.047},{"c":6,"t":4030,"y":0.039,"f":0.04},
{"c":7,"t":380,"y":0,"f":0},{"c":7,"t":409,"y":0.001,"f":0.001},{"c":7,"t":476,"y":0.003,"f":0.003},{"c":7,"t":619,"y":0.008,"f":0.008},{"c":7,"t":858,"y":0.015,"f":0.015},{"c":7,"t":1335,"y":0.025,"f":0.025},{"c":7,"t":1605,"y":0.022,"f":0.022},{"c":7,"t":2278,"y":0.018,"f":0.018},{"c":7,"t":3087,"y":0.013,"f":0.013},{"c":7,"t":4030,"y":0.008,"f":0.008}
],
"p13":[
{"c":1,"t":330,"y":0,"f":0},{"c":1,"t":348,"y":0.98,"f":1.0},{"c":1,"t":391,"y":1.14,"f":1.15},{"c":1,"t":483,"y":1.18,"f":1.18},{"c":1,"t":635,"y":1.205,"f":1.2},{"c":1,"t":940,"y":1.23,"f":1.225},{"c":1,"t":1181,"y":1.03,"f":1.04},{"c":1,"t":1784,"y":0.738,"f":0.76},{"c":1,"t":2507,"y":0.591,"f":0.62},{"c":1,"t":3350,"y":0.53,"f":0.58},
{"c":2,"t":330,"y":0,"f":0},{"c":2,"t":348,"y":0.51,"f":0.52},{"c":2,"t":391,"y":0.96,"f":0.97},{"c":2,"t":483,"y":1.08,"f":1.08},{"c":2,"t":635,"y":1.11,"f":1.11},{"c":2,"t":940,"y":1.14,"f":1.135},{"c":2,"t":1181,"y":0.958,"f":0.96},{"c":2,"t":1784,"y":0.692,"f":0.7},{"c":2,"t":2507,"y":0.558,"f":0.575},{"c":2,"t":3350,"y":0.502,"f":0.55},
{"c":3,"t":330,"y":0,"f":0},{"c":3,"t":348,"y":0.265,"f":0.27},{"c":3,"t":391,"y":0.64,"f":0.65},{"c":3,"t":483,"y":0.92,"f":0.93},{"c":3,"t":635,"y":0.99,"f":0.99},{"c":3,"t":940,"y":1.02,"f":1.02},{"c":3,"t":1181,"y":0.861,"f":0.865},{"c":3,"t":1784,"y":0.629,"f":0.635},{"c":3,"t":2507,"y":0.513,"f":0.52},{"c":3,"t":3350,"y":0.464,"f":0.47},
{"c":4,"t":330,"y":0,"f":0},{"c":4,"t":348,"y":0.118,"f":0.12},{"c":4,"t":391,"y":0.338,"f":0.34},{"c":4,"t":483,"y":0.605,"f":0.61},{"c":4,"t":635,"y":0.777,"f":0.78},{"c":4,"t":940,"y":0.845,"f":0.845},{"c":4,"t":1181,"y":0.712,"f":0.72},{"c":4,"t":1784,"y":0.518,"f":0.53},{"c":4,"t":2507,"y":0.421,"f":0.44},{"c":4,"t":3350,"y":0.38,"f":0.4},
{"c":5,"t":330,"y":0,"f":0},{"c":5,"t":348,"y":0.041,"f":0.041},{"c":5,"t":391,"y":0.124,"f":0.124},{"c":5,"t":483,"y":0.258,"f":0.258},{"c":5,"t":635,"y":0.377,"f":0.377},{"c":5,"t":940,"y":0.46,"f":0.455},{"c":5,"t":1181,"y":0.42,"f":0.43},{"c":5,"t":1784,"y":0.349,"f":0.37},{"c":5,"t":2507,"y":0.3,"f":0.34},{"c":5,"t":3350,"y":0.27,"f":0.33},
{"c":6,"t":330,"y":0,"f":0},{"c":6,"t":348,"y":0.01,"f":0.01},{"c":6,"t":391,"y":0.031,"f":0.031},{"c":6,"t":483,"y":0.07,"f":0.07},{"c":6,"t":635,"y":0.119,"f":0.119},{"c":6,"t":940,"y":0.175,"f":0.172},{"c":6,"t":1181,"y":0.165,"f":0.168},{"c":6,"t":1784,"y":0.145,"f":0.155},{"c":6,"t":2507,"y":0.13,"f":0.15},{"c":6,"t":3350,"y":0.118,"f":0.15},
{"c":7,"t":330,"y":0,"f":0},{"c":7,"t":348,"y":0.003,"f":0.003},{"c":7,"t":391,"y":0.009,"f":0.009},{"c":7,"t":483,"y":0.021,"f":0.021},{"c":7,"t":635,"y":0.038,"f":0.038},{"c":7,"t":940,"y":0.065,"f":0.065},{"c":7,"t":1181,"y":0.066,"f":0.067},{"c":7,"t":1784,"y":0.067,"f":0.068},{"c":7,"t":2507,"y":0.068,"f":0.069},{"c":7,"t":3350,"y":0.068,"f":0.07}
],
"p14":[
{"c":1,"t":250,"y":0,"f":0},{"c":1,"t":270,"y":1.13,"f":1.15},{"c":1,"t":315,"y":1.32,"f":1.32},{"c":1,"t":413,"y":1.36,"f":1.36},{"c":1,"t":575,"y":1.39,"f":1.39},{"c":1,"t":900,"y":1.42,"f":1.415},{"c":1,"t":1137,"y":1.24,"f":1.254},{"c":1,"t":1730,"y":0.964,"f":0.995},{"c":1,"t":2441,"y":0.808,"f":0.85},{"c":1,"t":3270,"y":0.735,"f":0.78},
{"c":2,"t":250,"y":0,"f":0},{"c":2,"t":270,"y":0.59,"f":0.6},{"c":2,"t":315,"y":1.1,"f":1.1},{"c":2,"t":413,"y":1.25,"f":1.25},{"c":2,"t":575,"y":1.29,"f":1.29},{"c":2,"t":900,"y":1.31,"f":1.31},{"c":2,"t":1137,"y":1.153,"f":1.16},{"c":2,"t":1730,"y":0.907,"f":0.93},{"c":2,"t":2441,"y":0.77,"f":0.8},{"c":2,"t":3270,"y":0.704,"f":0.74},
{"c":3,"t":250,"y":0,"f":0},{"c":3,"t":270,"y":0.31,"f":0.31},{"c":3,"t":315,"y":0.74,"f":0.74},{"c":3,"t":413,"y":1.06,"f":1.06},{"c":3,"t":575,"y":1.14,"f":1.14},{"c":3,"t":900,"y":1.18,"f":1.18},{"c":3,"t":1137,"y":1.042,"f":1.045},{"c":3,"t":1730,"y":0.827,"f":0.83},{"c":3,"t":2441,"y":0.707,"f":0.71},{"c":3,"t":3270,"y":0.649,"f":0.65},
{"c":4,"t":250,"y":0,"f":0},{"c":4,"t":270,"y":0.126,"f":0.126},{"c":4,"t":315,"y":0.36,"f":0.36},{"c":4,"t":413,"y":0.65,"f":0.65},{"c":4,"t":575,"y":0.83,"f":0.83},{"c":4,"t":900,"y":0.9,"f":0.9},{"c":4,"t":1137,"y":0.8,"f":0.805},{"c":4,"t":1730,"y":0.644,"f":0.65},{"c":4,"t":2441,"y":0.556,"f":0.565},{"c":4,"t":3270,"y":0.515,"f":0.525},
{"c":5,"t":250,"y":0,"f":0},{"c":5,"t":270,"y":0.041,"f":0.041},{"c":5,"t":315,"y":0.124,"f":0.124},{"c":5,"t":413,"y":0.258,"f":0.258},{"c":5,"t":575,"y":0.377,"f":0.377},{"c":5,"t":900,"y":0.46,"f":0.46},{"c":5,"t":1137,"y":0.436,"f":0.44},{"c":5,"t":1730,"y":0.392,"f":0.4},{"c":5,"t":2441,"y":0.362,"f":0.38},{"c":5,"t":3270,"y":0.343,"f":0.37},
{"c":6,"t":250,"y":0,"f":0},{"c":6,"t":270,"y":0.01,"f":0.01},{"c":6,"t":315,"y":0.032,"f":0.032},{"c":6,"t":413,"y":0.07,"f":0.07},{"c":6,"t":575,"y":0.12,"f":0.12},{"c":6,"t":900,"y":0.176,"f":0.176},{"c":6,"t":1137,"y":0.17,"f":0.172},{"c":6,"t":1730,"y":0.16,"f":0.165},{"c":6,"t":2441,"y":0.152,"f":0.16},{"c":6,"t":3270,"y":0.148,"f":0.158},
{"c":7,"t":250,"y":0,"f":0},{"c":7,"t":270,"y":0.0025,"f":0.0025},{"c":7,"t":315,"y":0.008,"f":0.008},{"c":7,"t":413,"y":0.019,"f":0.019},{"c":7,"t":575,"y":0.035,"f":0.035},{"c":7,"t":900,"y":0.06,"f":0.06},{"c":7,"t":1137,"y":0.061,"f":0.061},{"c":7,"t":1730,"y":0.062,"f":0.062},{"c":7,"t":2441,"y":0.062,"f":0.062},{"c":7,"t":3270,"y":0.063,"f":0.063}
],
"p15":[
{"c":1,"t":260,"y":0,"f":0},{"c":1,"t":279,"y":0.22,"f":0.235},{"c":1,"t":325,"y":0.25,"f":0.25},{"c":1,"t":421,"y":0.26,"f":0.255},{"c":1,"t":583,"y":0.268,"f":0.26},{"c":1,"t":905,"y":0.275,"f":0.265},{"c":1,"t":1146,"y":0.265,"f":0.255},{"c":1,"t":1747,"y":0.255,"f":0.25},{"c":1,"t":2468,"y":0.25,"f":0.252},{"c":1,"t":3310,"y":0.245,"f":0.26},
{"c":2,"t":260,"y":0,"f":0},{"c":2,"t":279,"y":0.15,"f":0.16},{"c":2,"t":325,"y":0.22,"f":0.22},{"c":2,"t":421,"y":0.24,"f":0.238},{"c":2,"t":583,"y":0.247,"f":0.245},{"c":2,"t":905,"y":0.252,"f":0.248},{"c":2,"t":1146,"y":0.245,"f":0.24},{"c":2,"t":1747,"y":0.24,"f":0.235},{"c":2,"t":2468,"y":0.237,"f":0.232},{"c":2,"t":3310,"y":0.236,"f":0.23},
{"c":3,"t":260,"y":0,"f":0},{"c":3,"t":279,"y":0.08,"f":0.08},{"c":3,"t":325,"y":0.17,"f":0.17},{"c":3,"t":421,"y":0.22,"f":0.218},{"c":3,"t":583,"y":0.235,"f":0.232},{"c":3,"t":905,"y":0.242,"f":0.238},{"c":3,"t":1146,"y":0.235,"f":0.23},{"c":3,"t":1747,"y":0.228,"f":0.222},{"c":3,"t":2468,"y":0.225,"f":0.217},{"c":3,"t":3310,"y":0.224,"f":0.215},
{"c":4,"t":260,"y":0,"f":0},{"c":4,"t":279,"y":0.028,"f":0.028},{"c":4,"t":325,"y":0.08,"f":0.08},{"c":4,"t":421,"y":0.144,"f":0.144},{"c":4,"t":583,"y":0.184,"f":0.184},{"c":4,"t":905,"y":0.2,"f":0.202},{"c":4,"t":1146,"y":0.198,"f":0.198},{"c":4,"t":1747,"y":0.194,"f":0.193},{"c":4,"t":2468,"y":0.19,"f":0.19},{"c":4,"t":3310,"y":0.188,"f":0.19},
{"c":5,"t":260,"y":0,"f":0},{"c":5,"t":279,"y":0.011,"f":0.011},{"c":5,"t":325,"y":0.032,"f":0.032},{"c":5,"t":421,"y":0.067,"f":0.067},{"c":5,"t":583,"y":0.098,"f":0.098},{"c":5,"t":905,"y":0.12,"f":0.12},{"c":5,"t":1146,"y":0.118,"f":0.118},{"c":5,"t":1747,"y":0.117,"f":0.118},{"c":5,"t":2468,"y":0.118,"f":0.12},{"c":5,"t":3310,"y":0.12,"f":0.123},
{"c":6,"t":260,"y":0,"f":0},{"c":6,"t":279,"y":0.003,"f":0.003},{"c":6,"t":325,"y":0.01,"f":0.01},{"c":6,"t":421,"y":0.022,"f":0.022},{"c":6,"t":583,"y":0.037,"f":0.036},{"c":6,"t":905,"y":0.055,"f":0.053},{"c":6,"t":1146,"y":0.057,"f":0.055},{"c":6,"t":1747,"y":0.059,"f":0.06},{"c":6,"t":2468,"y":0.061,"f":0.065},{"c":6,"t":3310,"y":0.063,"f":0.07},
{"c":7,"t":260,"y":0,"f":0},{"c":7,"t":279,"y":0.002,"f":0.002},{"c":7,"t":325,"y":0.005,"f":0.005},{"c":7,"t":421,"y":0.012,"f":0.012},{"c":7,"t":583,"y":0.02,"f":0.019},{"c":7,"t":905,"y":0.028,"f":0.027},{"c":7,"t":1146,"y":0.032,"f":0.03},{"c":7,"t":1747,"y":0.036,"f":0.037},{"c":7,"t":2468,"y":0.04,"f":0.044},{"c":7,"t":3310,"y":0.043,"f":0.05}
],
"p16":[
{"c":1,"t":250,"y":0,"f":0},{"c":1,"t":269,"y":0.4,"f":0.42},{"c":1,"t":314,"y":0.47,"f":0.475},{"c":1,"t":410,"y":0.485,"f":0.487},{"c":1,"t":570,"y":0.495,"f":0.495},{"c":1,"t":890,"y":0.505,"f":0.505},{"c":1,"t":1130,"y":0.412,"f":0.42},{"c":1,"t":1730,"y":0.283,"f":0.3},{"c":1,"t":2450,"y":0.222,"f":0.245},{"c":1,"t":3290,"y":0.199,"f":0.225},
{"c":2,"t":250,"y":0,"f":0},{"c":2,"t":269,"y":0.205,"f":0.205},{"c":2,"t":314,"y":0.38,"f":0.38},{"c":2,"t":410,"y":0.43,"f":0.43},{"c":2,"t":570,"y":0.445,"f":0.445},{"c":2,"t":890,"y":0.455,"f":0.455},{"c":2,"t":1130,"y":0.373,"f":0.38},{"c":2,"t":1730,"y":0.259,"f":0.27},{"c":2,"t":2450,"y":0.207,"f":0.22},{"c":2,"t":3290,"y":0.186,"f":0.2},
{"c":3,"t":250,"y":0,"f":0},{"c":3,"t":269,"y":0.1,"f":0.1},{"c":3,"t":314,"y":0.245,"f":0.245},{"c":3,"t":410,"y":0.35,"f":0.35},{"c":3,"t":570,"y":0.376,"f":0.376},{"c":3,"t":890,"y":0.39,"f":0.392},{"c":3,"t":1130,"y":0.322,"f":0.327},{"c":3,"t":1730,"y":0.228,"f":0.233},{"c":3,"t":2450,"y":0.185,"f":0.19},{"c":3,"t":3290,"y":0.168,"f":0.173},
{"c":4,"t":250,"y":0,"f":0},{"c":4,"t":269,"y":0.04,"f":0.04},{"c":4,"t":314,"y":0.113,"f":0.113},{"c":4,"t":410,"y":0.204,"f":0.204},{"c":4,"t":570,"y":0.26,"f":0.262},{"c":4,"t":890,"y":0.285,"f":0.29},{"c":4,"t":1130,"y":0.241,"f":0.245},{"c":4,"t":1730,"y":0.179,"f":0.183},{"c":4,"t":2450,"y":0.15,"f":0.155},{"c":4,"t":3290,"y":0.14,"f":0.145},
{"c":5,"t":250,"y":0,"f":0},{"c":5,"t":269,"y":0.014,"f":0.014},{"c":5,"t":314,"y":0.042,"f":0.042},{"c":5,"t":410,"y":0.087,"f":0.086},{"c":5,"t":570,"y":0.127,"f":0.125},{"c":5,"t":890,"y":0.155,"f":0.152},{"c":5,"t":1130,"y":0.14,"f":0.145},{"c":5,"t":1730,"y":0.118,"f":0.125},{"c":5,"t":2450,"y":0.105,"f":0.115},{"c":5,"t":3290,"y":0.101,"f":0.115},
{"c":6,"t":250,"y":0,"f":0},{"c":6,"t":269,"y":0.004,"f":0.004},{"c":6,"t":314,"y":0.013,"f":0.013},{"c":6,"t":410,"y":0.028,"f":0.028},{"c":6,"t":570,"y":0.048,"f":0.048},{"c":6,"t":890,"y":0.07,"f":0.07},{"c":6,"t":1130,"y":0.068,"f":0.068},{"c":6,"t":1730,"y":0.065,"f":0.066},{"c":6,"t":2450,"y":0.063,"f":0.065},{"c":6,"t":3290,"y":0.062,"f":0.065},
{"c":7,"t":250,"y":0,"f":0},{"c":7,"t":269,"y":0.0015,"f":0.0015},{"c":7,"t":314,"y":0.005,"f":0.005},{"c":7,"t":410,"y":0.011,"f":0.011},{"c":7,"t":570,"y":0.021,"f":0.021},{"c":7,"t":890,"y":0.035,"f":0.035},{"c":7,"t":1130,"y":0.037,"f":0.037},{"c":7,"t":1730,"y":0.039,"f":0.039},{"c":7,"t":2450,"y":0.04,"f":0.04},{"c":7,"t":3290,"y":0.041,"f":0.041}
],
"p17":[
{"c":1,"t":200,"y":0,"f":0},{"c":1,"t":220,"y":0.85,"f":0.92},{"c":1,"t":268,"y":0.97,"f":1.0},{"c":1,"t":369,"y":1.03,"f":1.02},{"c":1,"t":538,"y":1.06,"f":1.04},{"c":1,"t":875,"y":1.085,"f":1.055},{"c":1,"t":1122,"y":1.068,"f":1.04},{"c":1,"t":1740,"y":1.024,"f":1.0},{"c":1,"t":2481,"y":0.974,"f":0.975},{"c":1,"t":3345,"y":0.92,"f":0.965},
{"c":2,"t":200,"y":0,"f":0},{"c":2,"t":220,"y":0.45,"f":0.5},{"c":2,"t":268,"y":0.84,"f":0.86},{"c":2,"t":369,"y":0.95,"f":0.95},{"c":2,"t":538,"y":0.98,"f":0.98},{"c":2,"t":875,"y":1.0,"f":0.995},{"c":2,"t":1122,"y":0.985,"f":0.99},{"c":2,"t":1740,"y":0.949,"f":0.95},{"c":2,"t":2481,"y":0.908,"f":0.91},{"c":2,"t":3345,"y":0.862,"f":0.868},
{"c":3,"t":200,"y":0,"f":0},{"c":3,"t":220,"y":0.22,"f":0.23},{"c":3,"t":268,"y":0.535,"f":0.57},{"c":3,"t":369,"y":0.76,"f":0.81},{"c":3,"t":538,"y":0.82,"f":0.87},{"c":3,"t":875,"y":0.85,"f":0.9},{"c":3,"t":1122,"y":0.833,"f":0.878},{"c":3,"t":1740,"y":0.802,"f":0.826},{"c":3,"t":2481,"y":0.763,"f":0.769},{"c":3,"t":3345,"y":0.72,"f":0.706},
{"c":4,"t":200,"y":0,"f":0},{"c":4,"t":220,"y":0.084,"f":0.084},{"c":4,"t":268,"y":0.24,"f":0.24},{"c":4,"t":369,"y":0.43,"f":0.43},{"c":4,"t":538,"y":0.55,"f":0.55},{"c":4,"t":875,"y":0.6,"f":0.6},{"c":4,"t":1122,"y":0.592,"f":0.592},{"c":4,"t":1740,"y":0.572,"f":0.574},{"c":4,"t":2481,"y":0.549,"f":0.553},{"c":4,"t":3345,"y":0.524,"f":0.535},
{"c":5,"t":200,"y":0,"f":0},{"c":5,"t":220,"y":0.027,"f":0.027},{"c":5,"t":268,"y":0.081,"f":0.081},{"c":5,"t":369,"y":0.168,"f":0.168},{"c":5,"t":538,"y":0.246,"f":0.246},{"c":5,"t":875,"y":0.3,"f":0.3},{"c":5,"t":1122,"y":0.298,"f":0.298},{"c":5,"t":1740,"y":0.294,"f":0.298},{"c":5,"t":2481,"y":0.29,"f":0.3},{"c":5,"t":3345,"y":0.285,"f":0.303},
{"c":6,"t":200,"y":0,"f":0},{"c":6,"t":220,"y":0.007,"f":0.007},{"c":6,"t":268,"y":0.023,"f":0.022},{"c":6,"t":369,"y":0.05,"f":0.048},{"c":6,"t":538,"y":0.085,"f":0.082},{"c":6,"t":875,"y":0.13,"f":0.125},{"c":6,"t":1122,"y":0.13,"f":0.128},{"c":6,"t":1740,"y":0.132,"f":0.132},{"c":6,"t":2481,"y":0.135,"f":0.136},{"c":6,"t":3345,"y":0.138,"f":0.14},
{"c":7,"t":200,"y":0,"f":0},{"c":7,"t":220,"y":0.002,"f":0.002},{"c":7,"t":268,"y":0.007,"f":0.007},{"c":7,"t":369,"y":0.016,"f":0.016},{"c":7,"t":538,"y":0.03,"f":0.03},{"c":7,"t":875,"y":0.05,"f":0.05},{"c":7,"t":1122,"y":0.055,"f":0.055},{"c":7,"t":1740,"y":0.058,"f":0.06},{"c":7,"t":2481,"y":0.061,"f":0.065},{"c":7,"t":3345,"y":0.065,"f":0.07}
],
"p18":[
{"c":1,"t":430,"y":0,"f":0},{"c":1,"t":457,"y":0.4,"f":0.5},{"c":1,"t":522,"y":0.53,"f":0.56},{"c":1,"t":659,"y":0.58,"f":0.58},{"c":1,"t":888,"y":0.615,"f":0.6},{"c":1,"t":1345,"y":0.645,"f":0.62},{"c":1,"t":1607,"y":0.622,"f":0.6},{"c":1,"t":2262,"y":0.57,"f":0.545},{"c":1,"t":3048,"y":0.511,"f":0.51},{"c":1,"t":3965,"y":0.451,"f":0.49},
{"c":2,"t":430,"y":0,"f":0},{"c":2,"t":457,"y":0.25,"f":0.3},{"c":2,"t":522,"y":0.465,"f":0.48},{"c":2,"t":659,"y":0.525,"f":0.52},{"c":2,"t":888,"y":0.545,"f":0.54},{"c":2,"t":1345,"y":0.557,"f":0.55},{"c":2,"t":1607,"y":0.539,"f":0.535},{"c":2,"t":2262,"y":0.496,"f":0.495},{"c":2,"t":3048,"y":0.449,"f":0.45},{"c":2,"t":3965,"y":0.4,"f":0.405},
{"c":3,"t":430,"y":0,"f":0},{"c":3,"t":457,"y":0.123,"f":0.13},{"c":3,"t":522,"y":0.3,"f":0.32},{"c":3,"t":659,"y":0.427,"f":0.46},{"c":3,"t":888,"y":0.46,"f":0.5},{"c":3,"t":1345,"y":0.475,"f":0.513},{"c":3,"t":1607,"y":0.458,"f":0.49},{"c":3,"t":2262,"y":0.418,"f":0.44},{"c":3,"t":3048,"y":0.375,"f":0.385},{"c":3,"t":3965,"y":0.33,"f":0.335},
{"c":4,"t":430,"y":0,"f":0},{"c":4,"t":457,"y":0.053,"f":0.056},{"c":4,"t":522,"y":0.151,"f":0.16},{"c":4,"t":659,"y":0.27,"f":0.29},{"c":4,"t":888,"y":0.347,"f":0.37},{"c":4,"t":1345,"y":0.377,"f":0.4},{"c":4,"t":1607,"y":0.364,"f":0.385},{"c":4,"t":2262,"y":0.334,"f":0.35},{"c":4,"t":3048,"y":0.301,"f":0.31},{"c":4,"t":3965,"y":0.266,"f":0.27},
{"c":5,"t":430,"y":0,"f":0},{"c":5,"t":457,"y":0.02,"f":0.02},{"c":5,"t":522,"y":0.06,"f":0.06},{"c":5,"t":659,"y":0.125,"f":0.125},{"c":5,"t":888,"y":0.183,"f":0.184},{"c":5,"t":1345,"y":0.223,"f":0.225},{"c":5,"t":1607,"y":0.216,"f":0.217},{"c":5,"t":2262,"y":0.2,"f":0.202},{"c":5,"t":3048,"y":0.182,"f":0.185},{"c":5,"t":3965,"y":0.163,"f":0.167},
{"c":6,"t":430,"y":0,"f":0},{"c":6,"t":457,"y":0.006,"f":0.006},{"c":6,"t":522,"y":0.018,"f":0.018},{"c":6,"t":659,"y":0.041,"f":0.04},{"c":6,"t":888,"y":0.069,"f":0.067},{"c":6,"t":1345,"y":0.102,"f":0.098},{"c":6,"t":1607,"y":0.1,"f":0.097},{"c":6,"t":2262,"y":0.092,"f":0.092},{"c":6,"t":3048,"y":0.086,"f":0.088},{"c":6,"t":3965,"y":0.08,"f":0.085},
{"c":7,"t":430,"y":0,"f":0},{"c":7,"t":457,"y":0.002,"f":0.002},{"c":7,"t":522,"y":0.007,"f":0.007},{"c":7,"t":659,"y":0.017,"f":0.017},{"c":7,"t":888,"y":0.03,"f":0.03},{"c":7,"t":1345,"y":0.052,"f":0.052},{"c":7,"t":1607,"y":0.052,"f":0.052},{"c":7,"t":2262,"y":0.05,"f":0.051},{"c":7,"t":3048,"y":0.048,"f":0.05},{"c":7,"t":3965,"y":0.046,"f":0.05}
],
"p19":[
{"c":1,"t":400,"y":0,"f":0},{"c":1,"t":416,"y":1.07,"f":1.15},{"c":1,"t":453,"y":1.25,"f":1.27},{"c":1,"t":531,"y":1.29,"f":1.29},{"c":1,"t":663,"y":1.31,"f":1.3},{"c":1,"t":925,"y":1.335,"f":1.31},{"c":1,"t":1194,"y":1.322,"f":1.3},{"c":1,"t":1865,"y":1.287,"f":1.275},{"c":1,"t":2670,"y":1.247,"f":1.25},{"c":1,"t":3610,"y":1.203,"f":1.226},
{"c":2,"t":400,"y":0,"f":0},{"c":2,"t":416,"y":0.6,"f":0.62},{"c":2,"t":453,"y":1.11,"f":1.12},{"c":2,"t":531,"y":1.25,"f":1.26},{"c":2,"t":663,"y":1.29,"f":1.29},{"c":2,"t":925,"y":1.316,"f":1.31},{"c":2,"t":1194,"y":1.303,"f":1.3},{"c":2,"t":1865,"y":1.269,"f":1.27},{"c":2,"t":2670,"y":1.229,"f":1.235},{"c":2,"t":3610,"y":1.184,"f":1.2},
{"c":3,"t":400,"y":0,"f":0},{"c":3,"t":416,"y":0.31,"f":0.32},{"c":3,"t":453,"y":0.76,"f":0.78},{"c":3,"t":531,"y":1.09,"f":1.12},{"c":3,"t":663,"y":1.17,"f":1.2},{"c":3,"t":925,"y":1.205,"f":1.24},{"c":3,"t":1194,"y":1.192,"f":1.222},{"c":3,"t":1865,"y":1.158,"f":1.179},{"c":3,"t":2670,"y":1.119,"f":1.13},{"c":3,"t":3610,"y":1.075,"f":1.075},
{"c":4,"t":400,"y":0,"f":0},{"c":4,"t":416,"y":0.126,"f":0.126},{"c":4,"t":453,"y":0.36,"f":0.36},{"c":4,"t":531,"y":0.65,"f":0.65},{"c":4,"t":663,"y":0.83,"f":0.83},{"c":4,"t":925,"y":0.9,"f":0.9},{"c":4,"t":1194,"y":0.893,"f":0.895},{"c":4,"t":1865,"y":0.874,"f":0.878},{"c":4,"t":2670,"y":0.851,"f":0.86},{"c":4,"t":3610,"y":0.827,"f":0.846},
{"c":5,"t":400,"y":0,"f":0},{"c":5,"t":416,"y":0.036,"f":0.036},{"c":5,"t":453,"y":0.11,"f":0.11},{"c":5,"t":531,"y":0.227,"f":0.227},{"c":5,"t":663,"y":0.333,"f":0.333},{"c":5,"t":925,"y":0.406,"f":0.406},{"c":5,"t":1194,"y":0.403,"f":0.404},{"c":5,"t":1865,"y":0.397,"f":0.398},{"c":5,"t":2670,"y":0.39,"f":0.392},{"c":5,"t":3610,"y":0.38,"f":0.385},
{"c":6,"t":400,"y":0,"f":0},{"c":6,"t":416,"y":0.008,"f":0.008},{"c":6,"t":453,"y":0.026,"f":0.026},{"c":6,"t":531,"y":0.057,"f":0.057},{"c":6,"t":663,"y":0.097,"f":0.097},{"c":6,"t":925,"y":0.143,"f":0.143},{"c":6,"t":1194,"y":0.143,"f":0.143},{"c":6,"t":1865,"y":0.142,"f":0.142},{"c":6,"t":2670,"y":0.142,"f":0.142},{"c":6,"t":3610,"y":0.143,"f":0.143},
{"c":7,"t":400,"y":0,"f":0},{"c":7,"t":416,"y":0.002,"f":0.002},{"c":7,"t":453,"y":0.007,"f":0.007},{"c":7,"t":531,"y":0.016,"f":0.016},{"c":7,"t":663,"y":0.03,"f":0.03},{"c":7,"t":925,"y":0.05,"f":0.05},{"c":7,"t":1194,"y":0.05,"f":0.05},{"c":7,"t":1865,"y":0.05,"f":0.05},{"c":7,"t":2670,"y":0.05,"f":0.05},{"c":7,"t":3610,"y":0.05,"f":0.05}
],
"p20":[
{"c":1,"t":686,"y":0,"f":0},{"c":1,"t":730,"y":0,"f":0},{"c":1,"t":748,"y":0.38,"f":0.36},{"c":1,"t":789,"y":0.47,"f":0.47},{"c":1,"t":878,"y":0.49,"f":0.492},{"c":1,"t":1025,"y":0.5,"f":0.505},{"c":1,"t":1320,"y":0.52,"f":0.525},{"c":1,"t":1365,"y":0.434,"f":0.44},{"c":1,"t":1477,"y":0.275,"f":0.28},{"c":1,"t":1611,"y":0.159,"f":0.163},{"c":1,"t":1768,"y":0.084,"f":0.088},
{"c":2,"t":686,"y":0,"f":0},{"c":2,"t":730,"y":0,"f":0},{"c":2,"t":748,"y":0.33,"f":0.33},{"c":2,"t":789,"y":0.42,"f":0.42},{"c":2,"t":878,"y":0.44,"f":0.44},{"c":2,"t":1025,"y":0.448,"f":0.448},{"c":2,"t":1320,"y":0.455,"f":0.455},{"c":2,"t":1365,"y":0.377,"f":0.377},{"c":2,"t":1477,"y":0.237,"f":0.237},{"c":2,"t":1611,"y":0.135,"f":0.135},{"c":2,"t":1768,"y":0.07,"f":0.07},
{"c":3,"t":686,"y":0,"f":0},{"c":3,"t":730,"y":0,"f":0},{"c":3,"t":748,"y":0.14,"f":0.14},{"c":3,"t":789,"y":0.225,"f":0.225},{"c":3,"t":878,"y":0.26,"f":0.26},{"c":3,"t":1025,"y":0.27,"f":0.27},{"c":3,"t":1320,"y":0.275,"f":0.275},{"c":3,"t":1365,"y":0.23,"f":0.23},{"c":3,"t":1477,"y":0.148,"f":0.148},{"c":3,"t":1611,"y":0.087,"f":0.087},{"c":3,"t":1768,"y":0.047,"f":0.047},
{"c":4,"t":686,"y":0,"f":0},{"c":4,"t":730,"y":0,"f":0},{"c":4,"t":748,"y":0.07,"f":0.07},{"c":4,"t":789,"y":0.13,"f":0.13},{"c":4,"t":878,"y":0.165,"f":0.165},{"c":4,"t":1025,"y":0.177,"f":0.177},{"c":4,"t":1320,"y":0.18,"f":0.18},{"c":4,"t":1365,"y":0.154,"f":0.154},{"c":4,"t":1477,"y":0.104,"f":0.104},{"c":4,"t":1611,"y":0.064,"f":0.064},{"c":4,"t":1768,"y":0.037,"f":0.037},
{"c":5,"t":686,"y":0,"f":0},{"c":5,"t":730,"y":0,"f":0},{"c":5,"t":748,"y":0.03,"f":0.03},{"c":5,"t":789,"y":0.065,"f":0.065},{"c":5,"t":878,"y":0.09,"f":0.09},{"c":5,"t":1025,"y":0.098,"f":0.098},{"c":5,"t":1320,"y":0.103,"f":0.103},{"c":5,"t":1365,"y":0.089,"f":0.089},{"c":5,"t":1477,"y":0.063,"f":0.063},{"c":5,"t":1611,"y":0.041,"f":0.041},{"c":5,"t":1768,"y":0.025,"f":0.025},
{"c":6,"t":686,"y":0,"f":0},{"c":6,"t":730,"y":0,"f":0},{"c":6,"t":748,"y":0.012,"f":0.012},{"c":6,"t":789,"y":0.03,"f":0.03},{"c":6,"t":878,"y":0.045,"f":0.045},{"c":6,"t":1025,"y":0.052,"f":0.052},{"c":6,"t":1320,"y":0.056,"f":0.056},{"c":6,"t":1365,"y":0.05,"f":0.05},{"c":6,"t":1477,"y":0.038,"f":0.038},{"c":6,"t":1611,"y":0.027,"f":0.027},{"c":6,"t":1768,"y":0.018,"f":0.018}
]
},
"vconcat":[{
"title":{"text":"Binding (nm)","orient":"left","fontSize":22,"offset":10,"anchor":"middle"},
"vconcat":[{
"title":{"text":"Time (s)","orient":"bottom","fontSize":23,"offset":10,"anchor":"middle"},
"columns":4,
"spacing":{"row":69,"column":43},
"bounds":"flush",
"concat":[
{"title":"POWV-4","data":{"name":"p1"},"width":146,"height":135,
"encoding":{"x":{"field":"t","type":"quantitative","title":null,"scale":{"domain":[133,1693],"nice":false},"axis":{"values":[500,1000,1500],"format":"d"}}},
"layer":[
{"mark":{"type":"line","color":"black","strokeWidth":1.5,"interpolate":"monotone","clip":true},"encoding":{"y":{"field":"y","type":"quantitative","title":null,"scale":{"domain":[-0.072,0.809],"nice":false,"zero":false},"axis":{"values":[0,0.25,0.5,0.75],"format":".2f"}},"detail":{"field":"c"}}},
{"mark":{"type":"line","color":"red","strokeWidth":0.7,"interpolate":"monotone","clip":true},"encoding":{"y":{"field":"f","type":"quantitative","title":null},"detail":{"field":"c"}}}]},
{"title":"POWV-5","data":{"name":"p2"},"width":146,"height":135,
"encoding":{"x":{"field":"t","type":"quantitative","title":null,"scale":{"domain":[65,3510],"nice":false},"axis":{"values":[1000,2000,3000],"format":"d"}}},
"layer":[
{"mark":{"type":"line","color":"black","strokeWidth":1.7,"interpolate":"monotone","clip":true},"encoding":{"y":{"field":"y","type":"quantitative","title":null,"scale":{"domain":[-0.079,0.894],"nice":false,"zero":false},"axis":{"values":[0,0.25,0.5,0.75],"format":".2f"}},"detail":{"field":"c"}}},
{"mark":{"type":"line","color":"red","strokeWidth":0.7,"interpolate":"monotone","clip":true},"encoding":{"y":{"field":"f","type":"quantitative","title":null},"detail":{"field":"c"}}}]},
{"title":"POWV-14","data":{"name":"p3"},"width":146,"height":135,
"encoding":{"x":{"field":"t","type":"quantitative","title":null,"scale":{"domain":[255,6891],"nice":false},"axis":{"values":[2500,5000],"format":"d"}}},
"layer":[
{"mark":{"type":"line","color":"black","strokeWidth":1.7,"interpolate":"monotone","clip":true},"encoding":{"y":{"field":"y","type":"quantitative","title":null,"scale":{"domain":[-0.083,1.453],"nice":false,"zero":false},"axis":{"values":[0,0.5,1],"format":".1f"}},"detail":{"field":"c"}}},
{"mark":{"type":"line","color":"red","strokeWidth":0.7,"interpolate":"monotone","clip":true},"encoding":{"y":{"field":"f","type":"quantitative","title":null},"detail":{"field":"c"}}}]},
{"title":"POWV-15","data":{"name":"p4"},"width":146,"height":135,
"encoding":{"x":{"field":"t","type":"quantitative","title":null,"scale":{"domain":[183,1564],"nice":false},"axis":{"values":[500,1000,1500],"format":"d"}}},
"layer":[
{"mark":{"type":"line","color":"black","strokeWidth":1.5,"interpolate":"monotone","clip":true},"encoding":{"y":{"field":"y","type":"quantitative","title":null,"scale":{"domain":[-0.085,1.299],"nice":false,"zero":false},"axis":{"values":[0,0.5,1],"format":".1f"}},"detail":{"field":"c"}}},
{"mark":{"type":"line","color":"red","strokeWidth":0.7,"interpolate":"monotone","clip":true},"encoding":{"y":{"field":"f","type":"quantitative","title":null},"detail":{"field":"c"}}}]},
{"title":"POWV-18","data":{"name":"p5"},"width":146,"height":135,
"encoding":{"x":{"field":"t","type":"quantitative","title":null,"scale":{"domain":[116,3477],"nice":false},"axis":{"values":[1000,2000,3000],"format":"d"}}},
"layer":[
{"mark":{"type":"line","color":"black","strokeWidth":2.4,"interpolate":"monotone","clip":true},"encoding":{"y":{"field":"y","type":"quantitative","title":null,"scale":{"domain":[-0.047,0.664],"nice":false,"zero":false},"axis":{"values":[0,0.2,0.4,0.6],"format":".1f"}},"detail":{"field":"c"}}},
{"mark":{"type":"line","color":"red","strokeWidth":0.8,"interpolate":"monotone","clip":true},"encoding":{"y":{"field":"f","type":"quantitative","title":null},"detail":{"field":"c"}}}]},
{"title":"POWV-23","data":{"name":"p6"},"width":146,"height":135,
"encoding":{"x":{"field":"t","type":"quantitative","title":null,"scale":{"domain":[96,3420],"nice":false},"axis":{"values":[1000,2000,3000],"format":"d"}}},
"layer":[
{"mark":{"type":"line","color":"black","strokeWidth":1.9,"interpolate":"monotone","clip":true},"encoding":{"y":{"field":"y","type":"quantitative","title":null,"scale":{"domain":[-0.107,1.357],"nice":false,"zero":false},"axis":{"values":[0,0.5,1],"format":".1f"}},"detail":{"field":"c"}}},
{"mark":{"type":"line","color":"red","strokeWidth":0.7,"interpolate":"monotone","clip":true},"encoding":{"y":{"field":"f","type":"quantitative","title":null},"detail":{"field":"c"}}}]},
{"title":"POWV-33","data":{"name":"p7"},"width":146,"height":135,
"encoding":{"x":{"field":"t","type":"quantitative","title":null,"scale":{"domain":[561,3265],"nice":false},"axis":{"values":[1000,2000,3000],"format":"d"}}},
"layer":[
{"mark":{"type":"line","color":"black","strokeWidth":2.8,"interpolate":"monotone","clip":true},"encoding":{"y":{"field":"y","type":"quantitative","title":null,"scale":{"domain":[-0.047,0.647],"nice":false,"zero":false},"axis":{"values":[0,0.2,0.4,0.6],"format":".1f"}},"detail":{"field":"c"}}},
{"mark":{"type":"line","color":"red","strokeWidth":0.9,"interpolate":"monotone","clip":true},"encoding":{"y":{"field":"f","type":"quantitative","title":null},"detail":{"field":"c"}}}]},
{"title":"POWV-37","data":{"name":"p8"},"width":146,"height":135,
"encoding":{"x":{"field":"t","type":"quantitative","title":null,"scale":{"domain":[567,3260],"nice":false},"axis":{"values":[1000,2000,3000],"format":"d"}}},
"layer":[
{"mark":{"type":"line","color":"black","strokeWidth":3,"interpolate":"monotone","clip":true},"encoding":{"y":{"field":"y","type":"quantitative","title":null,"scale":{"domain":[-0.037,0.454],"nice":false,"zero":false},"axis":{"values":[0,0.2,0.4],"format":".1f"}},"detail":{"field":"c"}}},
{"mark":{"type":"line","color":"#e00000","strokeWidth":1.1,"interpolate":"monotone","clip":true},"encoding":{"y":{"field":"f","type":"quantitative","title":null},"detail":{"field":"c"}}}]},
{"title":"POWV-48","data":{"name":"p9"},"width":146,"height":135,
"encoding":{"x":{"field":"t","type":"quantitative","title":null,"scale":{"domain":[211,4220],"nice":false},"axis":{"values":[2000,4000],"format":"d"}}},
"layer":[
{"mark":{"type":"line","color":"black","strokeWidth":3,"interpolate":"monotone","clip":true},"encoding":{"y":{"field":"y","type":"quantitative","title":null,"scale":{"domain":[-0.043,0.605],"nice":false,"zero":false},"axis":{"values":[0,0.2,0.4,0.6],"format":".1f"}},"detail":{"field":"c"}}},
{"mark":{"type":"line","color":"red","strokeWidth":0.8,"interpolate":"monotone","clip":true},"encoding":{"y":{"field":"f","type":"quantitative","title":null},"detail":{"field":"c"}}}]},
{"title":"POWV-54","data":{"name":"p10"},"width":146,"height":135,
"encoding":{"x":{"field":"t","type":"quantitative","title":null,"scale":{"domain":[117,5843],"nice":false},"axis":{"values":[2000,4000],"format":"d"}}},
"layer":[
{"mark":{"type":"line","color":"black","strokeWidth":1.9,"interpolate":"monotone","clip":true},"encoding":{"y":{"field":"y","type":"quantitative","title":null,"scale":{"domain":[-0.09,1.065],"nice":false,"zero":false},"axis":{"values":[0,0.5,1],"format":".1f"}},"detail":{"field":"c"}}},
{"mark":{"type":"line","color":"red","strokeWidth":0.7,"interpolate":"monotone","clip":true},"encoding":{"y":{"field":"f","type":"quantitative","title":null},"detail":{"field":"c"}}}]},
{"title":"POWV-55","data":{"name":"p11"},"width":146,"height":135,
"encoding":{"x":{"field":"t","type":"quantitative","title":null,"scale":{"domain":[250,3244],"nice":false},"axis":{"values":[1000,2000,3000],"format":"d"}}},
"layer":[
{"mark":{"type":"line","color":"black","strokeWidth":3,"interpolate":"monotone","clip":true},"encoding":{"y":{"field":"y","type":"quantitative","title":null,"scale":{"domain":[-0.036,0.454],"nice":false,"zero":false},"axis":{"values":[0,0.2,0.4],"format":".1f"}},"detail":{"field":"c"}}},
{"mark":{"type":"line","color":"red","strokeWidth":0.8,"interpolate":"monotone","clip":true},"encoding":{"y":{"field":"f","type":"quantitative","title":null},"detail":{"field":"c"}}}]},
{"title":"POWV-56","data":{"name":"p12"},"width":146,"height":135,
"encoding":{"x":{"field":"t","type":"quantitative","title":null,"scale":{"domain":[178,4205],"nice":false},"axis":{"values":[2000,4000],"format":"d"}}},
"layer":[
{"mark":{"type":"line","color":"black","strokeWidth":2.8,"interpolate":"monotone","clip":true},"encoding":{"y":{"field":"y","type":"quantitative","title":null,"scale":{"domain":[-0.05,0.593],"nice":false,"zero":false},"axis":{"values":[0,0.2,0.4],"format":".1f"}},"detail":{"field":"c"}}},
{"mark":{"type":"line","color":"red","strokeWidth":0.8,"interpolate":"monotone","clip":true},"encoding":{"y":{"field":"f","type":"quantitative","title":null},"detail":{"field":"c"}}}]},
{"title":"POWV-60","data":{"name":"p13"},"width":146,"height":135,
"encoding":{"x":{"field":"t","type":"quantitative","title":null,"scale":{"domain":[148,3445],"nice":false},"axis":{"values":[1000,2000,3000],"format":"d"}}},
"layer":[
{"mark":{"type":"line","color":"black","strokeWidth":1.9,"interpolate":"monotone","clip":true},"encoding":{"y":{"field":"y","type":"quantitative","title":null,"scale":{"domain":[-0.068,1.3],"nice":false,"zero":false},"axis":{"values":[0,0.5,1],"format":".1f"}},"detail":{"field":"c"}}},
{"mark":{"type":"line","color":"red","strokeWidth":0.7,"interpolate":"monotone","clip":true},"encoding":{"y":{"field":"f","type":"quantitative","title":null},"detail":{"field":"c"}}}]},
{"title":"POWV-61","data":{"name":"p14"},"width":146,"height":135,
"encoding":{"x":{"field":"t","type":"quantitative","title":null,"scale":{"domain":[96,3420],"nice":false},"axis":{"values":[1000,2000,3000],"format":"d"}}},
"layer":[
{"mark":{"type":"line","color":"black","strokeWidth":1.9,"interpolate":"monotone","clip":true},"encoding":{"y":{"field":"y","type":"quantitative","title":null,"scale":{"domain":[-0.078,1.504],"nice":false,"zero":false},"axis":{"values":[0,0.5,1],"format":".1f"}},"detail":{"field":"c"}}},
{"mark":{"type":"line","color":"red","strokeWidth":0.7,"interpolate":"monotone","clip":true},"encoding":{"y":{"field":"f","type":"quantitative","title":null},"detail":{"field":"c"}}}]},
{"title":"POWV-62","data":{"name":"p15"},"width":146,"height":135,
"encoding":{"x":{"field":"t","type":"quantitative","title":null,"scale":{"domain":[91,3462],"nice":false},"axis":{"values":[1000,2000,3000],"format":"d"}}},
"layer":[
{"mark":{"type":"line","color":"black","strokeWidth":4.5,"interpolate":"monotone","clip":true},"encoding":{"y":{"field":"y","type":"quantitative","title":null,"scale":{"domain":[-0.025,0.307],"nice":false,"zero":false},"axis":{"values":[0,0.1,0.2,0.3],"format":".1f"}},"detail":{"field":"c"}}},
{"mark":{"type":"line","color":"red","strokeWidth":1,"interpolate":"monotone","clip":true},"encoding":{"y":{"field":"f","type":"quantitative","title":null},"detail":{"field":"c"}}}]},
{"title":"POWV-63","data":{"name":"p16"},"width":146,"height":135,
"encoding":{"x":{"field":"t","type":"quantitative","title":null,"scale":{"domain":[93,3439],"nice":false},"axis":{"values":[1000,2000,3000],"format":"d"}}},
"layer":[
{"mark":{"type":"line","color":"black","strokeWidth":3.2,"interpolate":"monotone","clip":true},"encoding":{"y":{"field":"y","type":"quantitative","title":null,"scale":{"domain":[-0.036,0.551],"nice":false,"zero":false},"axis":{"values":[0,0.2,0.4],"format":".1f"}},"detail":{"field":"c"}}},
{"mark":{"type":"line","color":"red","strokeWidth":0.8,"interpolate":"monotone","clip":true},"encoding":{"y":{"field":"f","type":"quantitative","title":null},"detail":{"field":"c"}}}]},
{"title":"POWV-65","data":{"name":"p17"},"width":146,"height":135,
"encoding":{"x":{"field":"t","type":"quantitative","title":null,"scale":{"domain":[36,3500],"nice":false},"axis":{"values":[1000,2000,3000],"format":"d"}}},
"layer":[
{"mark":{"type":"line","color":"black","strokeWidth":1.9,"interpolate":"monotone","clip":true},"encoding":{"y":{"field":"y","type":"quantitative","title":null,"scale":{"domain":[-0.044,1.147],"nice":false,"zero":false},"axis":{"values":[0,0.5,1],"format":".1f"}},"detail":{"field":"c"}}},
{"mark":{"type":"line","color":"red","strokeWidth":0.7,"interpolate":"monotone","clip":true},"encoding":{"y":{"field":"f","type":"quantitative","title":null},"detail":{"field":"c"}}}]},
{"title":"POWV-70","data":{"name":"p18"},"width":146,"height":135,
"encoding":{"x":{"field":"t","type":"quantitative","title":null,"scale":{"domain":[245,4160],"nice":false},"axis":{"values":[2000,4000],"format":"d"}}},
"layer":[
{"mark":{"type":"line","color":"black","strokeWidth":2.5,"interpolate":"monotone","clip":true},"encoding":{"y":{"field":"y","type":"quantitative","title":null,"scale":{"domain":[-0.059,0.693],"nice":false,"zero":false},"axis":{"values":[0,0.2,0.4,0.6],"format":".1f"}},"detail":{"field":"c"}}},
{"mark":{"type":"line","color":"red","strokeWidth":0.7,"interpolate":"monotone","clip":true},"encoding":{"y":{"field":"f","type":"quantitative","title":null},"detail":{"field":"c"}}}]},
{"title":"POWV-71","data":{"name":"p19"},"width":146,"height":135,
"encoding":{"x":{"field":"t","type":"quantitative","title":null,"scale":{"domain":[235,3765],"nice":false},"axis":{"values":[1000,2000,3000],"format":"d"}}},
"layer":[
{"mark":{"type":"line","color":"black","strokeWidth":1.8,"interpolate":"monotone","clip":true},"encoding":{"y":{"field":"y","type":"quantitative","title":null,"scale":{"domain":[-0.083,1.44],"nice":false,"zero":false},"axis":{"values":[0,0.5,1],"format":".1f"}},"detail":{"field":"c"}}},
{"mark":{"type":"line","color":"red","strokeWidth":0.7,"interpolate":"monotone","clip":true},"encoding":{"y":{"field":"f","type":"quantitative","title":null},"detail":{"field":"c"}}}]},
{"title":"POWV-80","data":{"name":"p20"},"width":146,"height":135,
"encoding":{"x":{"field":"t","type":"quantitative","title":null,"scale":{"domain":[632,1822],"nice":false},"axis":{"values":[1000,1500],"format":"d"}}},
"layer":[
{"mark":{"type":"line","color":"black","strokeWidth":1.9,"interpolate":"monotone","clip":true},"encoding":{"y":{"field":"y","type":"quantitative","title":null,"scale":{"domain":[-0.034,0.566],"nice":false,"zero":false},"axis":{"values":[0,0.2,0.4],"format":".1f"}},"detail":{"field":"c"}}},
{"mark":{"type":"line","color":"red","strokeWidth":0.7,"interpolate":"monotone","clip":true},"encoding":{"y":{"field":"f","type":"quantitative","title":null},"detail":{"field":"c"}}}]}
]
}]
}]
}
